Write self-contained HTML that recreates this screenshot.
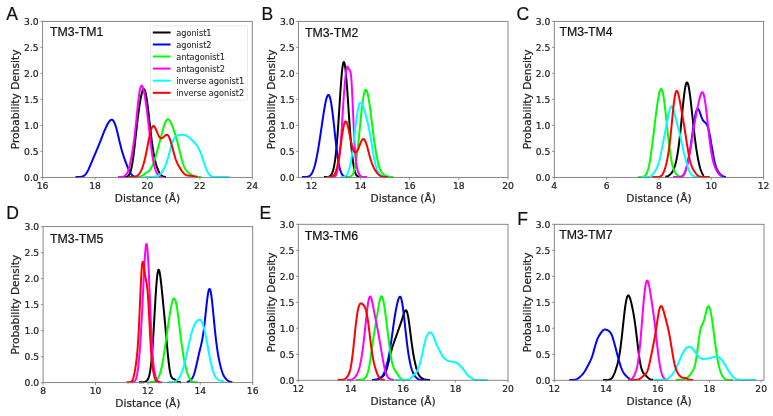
<!DOCTYPE html><html><head><meta charset="utf-8"><style>html,body{margin:0;padding:0;background:#fff;}svg{display:block;will-change:transform}.t{font-family:"DejaVu Sans",sans-serif;fill:#222;stroke:#222;stroke-width:0.22px}.l{font-family:"DejaVu Sans",sans-serif;fill:#262626;stroke:#262626;stroke-width:0.08px}.h{font-family:"Liberation Sans",sans-serif;fill:#111;stroke:#111;stroke-width:0.2px}</style></head><body>
<svg width="773" height="416" viewBox="0 0 773 416">
<polyline points="121.0,177.00 121.5,177.00 122.0,177.00 122.5,177.00 123.0,177.00 123.5,176.99 124.0,176.99 124.5,176.97 125.0,176.95 125.5,176.91 126.0,176.85 126.5,176.74 127.0,176.59 127.5,176.36 128.0,176.03 128.5,175.57 129.0,174.95 129.5,174.12 130.0,173.03 130.5,171.66 131.0,169.94 131.5,167.85 132.0,165.36 132.5,162.45 133.0,159.15 133.5,155.47 134.0,151.47 134.5,147.20 135.0,142.74 135.5,138.18 136.0,133.59 136.5,129.05 137.0,124.62 137.5,120.35 138.0,116.27 138.5,112.42 139.0,108.79 139.5,105.40 140.0,102.24 140.5,99.34 141.0,96.72 141.5,94.39 142.0,92.42 142.5,90.85 143.0,89.73 143.5,89.13 144.0,89.08 144.5,89.63 145.0,90.78 145.5,92.53 146.0,94.86 146.5,97.71 147.0,101.02 147.5,104.73 148.0,108.74 148.5,112.98 149.0,117.36 149.5,121.79 150.0,126.20 150.5,130.54 151.0,134.74 151.5,138.75 152.0,142.55 152.5,146.11 153.0,149.41 153.5,152.45 154.0,155.22 154.5,157.74 155.0,160.02 155.5,162.07 156.0,163.92 156.5,165.60 157.0,167.11 157.5,168.48 158.0,169.73 158.5,170.86 159.0,171.88 159.5,172.80 160.0,173.61 160.5,174.33 161.0,174.94 161.5,175.46 162.0,175.88 162.5,176.21 163.0,176.46 163.5,176.64 164.0,176.77 164.5,176.86 165.0,176.92 165.5,176.96 166.0,176.98" fill="none" stroke="#000000" stroke-width="2.0" stroke-linejoin="round" stroke-linecap="butt"/>
<polyline points="75.4,177.00 75.9,177.00 76.4,177.00 76.9,176.99 77.4,176.99 77.9,176.99 78.4,176.98 78.9,176.96 79.4,176.94 79.9,176.91 80.4,176.87 80.9,176.81 81.4,176.72 81.9,176.61 82.4,176.46 82.9,176.27 83.4,176.03 83.9,175.73 84.4,175.36 84.9,174.92 85.4,174.40 85.9,173.80 86.4,173.12 86.9,172.35 87.4,171.50 87.9,170.58 88.4,169.59 88.9,168.54 89.4,167.44 89.9,166.29 90.4,165.12 90.9,163.92 91.4,162.72 91.9,161.51 92.4,160.30 92.9,159.10 93.4,157.90 93.9,156.72 94.4,155.55 94.9,154.38 95.4,153.22 95.9,152.06 96.4,150.89 96.9,149.72 97.4,148.54 97.9,147.35 98.4,146.14 98.9,144.91 99.4,143.67 99.9,142.41 100.4,141.14 100.9,139.86 101.4,138.57 101.9,137.28 102.4,135.99 102.9,134.71 103.4,133.45 103.9,132.21 104.4,130.99 104.9,129.80 105.4,128.65 105.9,127.54 106.4,126.47 106.9,125.45 107.4,124.48 107.9,123.57 108.4,122.73 108.9,121.96 109.4,121.29 109.9,120.71 110.4,120.25 110.9,119.93 111.4,119.75 111.9,119.74 112.4,119.91 112.9,120.27 113.4,120.84 113.9,121.62 114.4,122.61 114.9,123.82 115.4,125.22 115.9,126.80 116.4,128.55 116.9,130.44 117.4,132.44 117.9,134.53 118.4,136.65 118.9,138.80 119.4,140.93 119.9,143.03 120.4,145.06 120.9,147.02 121.4,148.90 121.9,150.69 122.4,152.39 122.9,154.02 123.4,155.57 123.9,157.06 124.4,158.50 124.9,159.91 125.4,161.29 125.9,162.64 126.4,163.98 126.9,165.29 127.4,166.56 127.9,167.80 128.4,168.99 128.9,170.11 129.4,171.16 129.9,172.11 130.4,172.98 130.9,173.74 131.4,174.41 131.9,174.97 132.4,175.44 132.9,175.82 133.4,176.13 133.9,176.37 134.4,176.55 134.9,176.69 135.4,176.79 135.9,176.86 136.4,176.91 136.9,176.94 137.4,176.96 137.9,176.98 138.4,176.99 138.9,176.99" fill="none" stroke="#0000ff" stroke-width="2.0" stroke-linejoin="round" stroke-linecap="butt"/>
<polyline points="137.0,176.94 137.5,176.92 138.0,176.88 138.5,176.82 139.0,176.75 139.5,176.66 140.0,176.54 140.5,176.39 141.0,176.21 141.5,175.99 142.0,175.75 142.5,175.47 143.0,175.16 143.5,174.83 144.0,174.48 144.5,174.11 145.0,173.74 145.5,173.37 146.0,173.01 146.5,172.64 147.0,172.28 147.5,171.92 148.0,171.55 148.5,171.15 149.0,170.72 149.5,170.24 150.0,169.70 150.5,169.07 151.0,168.34 151.5,167.51 152.0,166.56 152.5,165.49 153.0,164.31 153.5,163.01 154.0,161.61 154.5,160.11 155.0,158.53 155.5,156.88 156.0,155.18 156.5,153.43 157.0,151.65 157.5,149.84 158.0,148.02 158.5,146.18 159.0,144.32 159.5,142.46 160.0,140.58 160.5,138.69 161.0,136.81 161.5,134.92 162.0,133.05 162.5,131.20 163.0,129.41 163.5,127.68 164.0,126.05 164.5,124.54 165.0,123.18 165.5,121.99 166.0,120.99 166.5,120.20 167.0,119.64 167.5,119.31 168.0,119.22 168.5,119.35 169.0,119.69 169.5,120.24 170.0,120.96 170.5,121.83 171.0,122.84 171.5,123.96 172.0,125.16 172.5,126.44 173.0,127.78 173.5,129.17 174.0,130.61 174.5,132.09 175.0,133.63 175.5,135.23 176.0,136.89 176.5,138.62 177.0,140.42 177.5,142.29 178.0,144.23 178.5,146.22 179.0,148.26 179.5,150.33 180.0,152.40 180.5,154.45 181.0,156.46 181.5,158.39 182.0,160.24 182.5,161.97 183.0,163.58 183.5,165.04 184.0,166.36 184.5,167.53 185.0,168.56 185.5,169.46 186.0,170.23 186.5,170.90 187.0,171.48 187.5,171.98 188.0,172.42 188.5,172.82 189.0,173.19 189.5,173.53 190.0,173.86 190.5,174.18 191.0,174.48 191.5,174.78 192.0,175.06 192.5,175.33 193.0,175.58 193.5,175.81 194.0,176.02 194.5,176.21 195.0,176.37 195.5,176.50 196.0,176.62 196.5,176.71 197.0,176.79 197.5,176.85 198.0,176.89 198.5,176.92 199.0,176.95 199.5,176.97 200.0,176.98 200.5,176.99 201.0,176.99" fill="none" stroke="#00ff00" stroke-width="2.0" stroke-linejoin="round" stroke-linecap="butt"/>
<polyline points="118.0,177.00 118.5,177.00 119.0,177.00 119.5,176.99 120.0,176.99 120.5,176.97 121.0,176.95 121.5,176.92 122.0,176.87 122.5,176.79 123.0,176.68 123.5,176.54 124.0,176.34 124.5,176.08 125.0,175.75 125.5,175.33 126.0,174.80 126.5,174.14 127.0,173.33 127.5,172.33 128.0,171.12 128.5,169.70 129.0,168.06 129.5,166.19 130.0,164.12 130.5,161.85 131.0,159.39 131.5,156.77 132.0,153.97 132.5,150.99 133.0,147.81 133.5,144.38 134.0,140.70 134.5,136.72 135.0,132.46 135.5,127.92 136.0,123.15 136.5,118.23 137.0,113.25 137.5,108.34 138.0,103.64 138.5,99.27 139.0,95.37 139.5,92.05 140.0,89.38 140.5,87.41 141.0,86.17 141.5,85.63 142.0,85.76 142.5,86.51 143.0,87.79 143.5,89.55 144.0,91.73 144.5,94.27 145.0,97.12 145.5,100.26 146.0,103.67 146.5,107.32 147.0,111.20 147.5,115.27 148.0,119.51 148.5,123.88 149.0,128.32 149.5,132.78 150.0,137.19 150.5,141.48 151.0,145.60 151.5,149.49 152.0,153.11 152.5,156.42 153.0,159.41 153.5,162.08 154.0,164.44 154.5,166.49 155.0,168.28 155.5,169.83 156.0,171.16 156.5,172.30 157.0,173.28 157.5,174.11 158.0,174.81 158.5,175.38 159.0,175.83 159.5,176.19 160.0,176.46 160.5,176.65 161.0,176.78 161.5,176.87 162.0,176.93 162.5,176.96" fill="none" stroke="#ff00ff" stroke-width="2.0" stroke-linejoin="round" stroke-linecap="butt"/>
<polyline points="144.5,177.00 145.0,177.00 145.5,177.00 146.0,177.00 146.5,177.00 147.0,177.00 147.5,177.00 148.0,177.00 148.5,177.00 149.0,177.00 149.5,177.00 150.0,177.00 150.5,177.00 151.0,176.99 151.5,176.99 152.0,176.98 152.5,176.97 153.0,176.95 153.5,176.93 154.0,176.89 154.5,176.84 155.0,176.78 155.5,176.69 156.0,176.58 156.5,176.44 157.0,176.26 157.5,176.04 158.0,175.79 158.5,175.48 159.0,175.13 159.5,174.72 160.0,174.27 160.5,173.76 161.0,173.20 161.5,172.59 162.0,171.92 162.5,171.19 163.0,170.39 163.5,169.53 164.0,168.59 164.5,167.57 165.0,166.47 165.5,165.26 166.0,163.96 166.5,162.56 167.0,161.06 167.5,159.46 168.0,157.78 168.5,156.04 169.0,154.24 169.5,152.41 170.0,150.58 170.5,148.77 171.0,147.01 171.5,145.33 172.0,143.76 172.5,142.30 173.0,140.99 173.5,139.82 174.0,138.81 174.5,137.95 175.0,137.24 175.5,136.67 176.0,136.22 176.5,135.87 177.0,135.61 177.5,135.42 178.0,135.29 178.5,135.18 179.0,135.10 179.5,135.03 180.0,134.97 180.5,134.92 181.0,134.87 181.5,134.83 182.0,134.79 182.5,134.78 183.0,134.79 183.5,134.82 184.0,134.89 184.5,134.99 185.0,135.13 185.5,135.30 186.0,135.51 186.5,135.76 187.0,136.04 187.5,136.35 188.0,136.69 188.5,137.05 189.0,137.44 189.5,137.85 190.0,138.28 190.5,138.72 191.0,139.18 191.5,139.66 192.0,140.14 192.5,140.63 193.0,141.14 193.5,141.65 194.0,142.17 194.5,142.70 195.0,143.25 195.5,143.82 196.0,144.41 196.5,145.05 197.0,145.72 197.5,146.45 198.0,147.24 198.5,148.11 199.0,149.06 199.5,150.09 200.0,151.22 200.5,152.43 201.0,153.72 201.5,155.09 202.0,156.53 202.5,158.02 203.0,159.54 203.5,161.08 204.0,162.62 204.5,164.13 205.0,165.60 205.5,167.01 206.0,168.34 206.5,169.58 207.0,170.72 207.5,171.75 208.0,172.67 208.5,173.48 209.0,174.18 209.5,174.77 210.0,175.26 210.5,175.67 211.0,176.00 211.5,176.26 212.0,176.46 212.5,176.61 213.0,176.73 213.5,176.81 214.0,176.87 214.5,176.92 215.0,176.95 215.5,176.97 216.0,176.98 216.5,176.99 217.0,176.99 217.5,177.00 218.0,177.00 218.5,177.00 219.0,177.00 219.5,177.00 220.0,177.00 220.5,177.00 221.0,177.00 221.5,177.00 222.0,177.00 222.5,177.00 223.0,177.00 223.5,177.00 224.0,177.00 224.5,177.00 225.0,177.00 225.5,177.00 226.0,177.00 226.5,177.00 227.0,177.00 227.5,177.00 228.0,177.00 228.5,177.00 229.0,177.00" fill="none" stroke="#00ffff" stroke-width="2.0" stroke-linejoin="round" stroke-linecap="butt"/>
<polyline points="129.0,177.00 129.5,177.00 130.0,177.00 130.5,176.99 131.0,176.99 131.5,176.98 132.0,176.97 132.5,176.95 133.0,176.93 133.5,176.89 134.0,176.84 134.5,176.77 135.0,176.67 135.5,176.54 136.0,176.37 136.5,176.16 137.0,175.88 137.5,175.55 138.0,175.15 138.5,174.66 139.0,174.10 139.5,173.44 140.0,172.68 140.5,171.82 141.0,170.86 141.5,169.77 142.0,168.57 142.5,167.24 143.0,165.77 143.5,164.17 144.0,162.42 144.5,160.52 145.0,158.47 145.5,156.28 146.0,153.95 146.5,151.51 147.0,148.97 147.5,146.37 148.0,143.74 148.5,141.13 149.0,138.58 149.5,136.15 150.0,133.88 150.5,131.83 151.0,130.05 151.5,128.56 152.0,127.41 152.5,126.60 153.0,126.14 153.5,126.03 154.0,126.25 154.5,126.76 155.0,127.52 155.5,128.48 156.0,129.59 156.5,130.79 157.0,132.02 157.5,133.24 158.0,134.39 158.5,135.44 159.0,136.35 159.5,137.10 160.0,137.68 160.5,138.07 161.0,138.28 161.5,138.32 162.0,138.20 162.5,137.95 163.0,137.58 163.5,137.14 164.0,136.65 164.5,136.15 165.0,135.68 165.5,135.27 166.0,134.97 166.5,134.81 167.0,134.82 167.5,135.02 168.0,135.44 168.5,136.08 169.0,136.96 169.5,138.06 170.0,139.37 170.5,140.87 171.0,142.53 171.5,144.31 172.0,146.17 172.5,148.08 173.0,149.99 173.5,151.87 174.0,153.70 174.5,155.44 175.0,157.07 175.5,158.59 176.0,160.00 176.5,161.29 177.0,162.48 177.5,163.57 178.0,164.58 178.5,165.52 179.0,166.41 179.5,167.25 180.0,168.07 180.5,168.86 181.0,169.62 181.5,170.36 182.0,171.08 182.5,171.75 183.0,172.39 183.5,172.98 184.0,173.51 184.5,173.98 185.0,174.38 185.5,174.72 186.0,175.00 186.5,175.21 187.0,175.37 187.5,175.49 188.0,175.57 188.5,175.62 189.0,175.66 189.5,175.69 190.0,175.72 190.5,175.76 191.0,175.81 191.5,175.88 192.0,175.95 192.5,176.04 193.0,176.14 193.5,176.24 194.0,176.34 194.5,176.44 195.0,176.53 195.5,176.62 196.0,176.70 196.5,176.76 197.0,176.82 197.5,176.87" fill="none" stroke="#ff0000" stroke-width="2.0" stroke-linejoin="round" stroke-linecap="butt"/>
<rect x="42.6" y="21.4" width="209.70" height="156.00" fill="none" stroke="#7a7a7a" stroke-width="0.9"/>
<line x1="40.40" y1="177.40" x2="42.60" y2="177.40" stroke="#7a7a7a" stroke-width="0.8"/>
<text class="t" x="38.70" y="180.60" font-size="9.2" text-anchor="end">0.0</text>
<line x1="40.40" y1="151.40" x2="42.60" y2="151.40" stroke="#7a7a7a" stroke-width="0.8"/>
<text class="t" x="38.70" y="154.60" font-size="9.2" text-anchor="end">0.5</text>
<line x1="40.40" y1="125.40" x2="42.60" y2="125.40" stroke="#7a7a7a" stroke-width="0.8"/>
<text class="t" x="38.70" y="128.60" font-size="9.2" text-anchor="end">1.0</text>
<line x1="40.40" y1="99.40" x2="42.60" y2="99.40" stroke="#7a7a7a" stroke-width="0.8"/>
<text class="t" x="38.70" y="102.60" font-size="9.2" text-anchor="end">1.5</text>
<line x1="40.40" y1="73.40" x2="42.60" y2="73.40" stroke="#7a7a7a" stroke-width="0.8"/>
<text class="t" x="38.70" y="76.60" font-size="9.2" text-anchor="end">2.0</text>
<line x1="40.40" y1="47.40" x2="42.60" y2="47.40" stroke="#7a7a7a" stroke-width="0.8"/>
<text class="t" x="38.70" y="50.60" font-size="9.2" text-anchor="end">2.5</text>
<line x1="40.40" y1="21.40" x2="42.60" y2="21.40" stroke="#7a7a7a" stroke-width="0.8"/>
<text class="t" x="38.70" y="24.60" font-size="9.2" text-anchor="end">3.0</text>
<line x1="42.60" y1="177.40" x2="42.60" y2="179.60" stroke="#7a7a7a" stroke-width="0.8"/>
<text class="t" x="42.60" y="189.00" font-size="9.2" text-anchor="middle">16</text>
<line x1="95.03" y1="177.40" x2="95.03" y2="179.60" stroke="#7a7a7a" stroke-width="0.8"/>
<text class="t" x="95.03" y="189.00" font-size="9.2" text-anchor="middle">18</text>
<line x1="147.45" y1="177.40" x2="147.45" y2="179.60" stroke="#7a7a7a" stroke-width="0.8"/>
<text class="t" x="147.45" y="189.00" font-size="9.2" text-anchor="middle">20</text>
<line x1="199.88" y1="177.40" x2="199.88" y2="179.60" stroke="#7a7a7a" stroke-width="0.8"/>
<text class="t" x="199.88" y="189.00" font-size="9.2" text-anchor="middle">22</text>
<line x1="252.30" y1="177.40" x2="252.30" y2="179.60" stroke="#7a7a7a" stroke-width="0.8"/>
<text class="t" x="252.30" y="189.00" font-size="9.2" text-anchor="middle">24</text>
<text class="t" x="147.45" y="202.20" font-size="10.6" text-anchor="middle">Distance (Å)</text>
<text class="t" transform="translate(18.80,99.40) rotate(-90)" x="0" y="0" font-size="10.6" text-anchor="middle">Probability Density</text>
<text class="h" x="50.1" y="35.6" font-size="12.3">TM3-TM1</text>
<text class="h" x="6.3" y="19.6" font-size="17.5">A</text>
<polyline points="324.0,177.00 324.5,177.00 325.0,177.00 325.5,176.99 326.0,176.98 326.5,176.97 327.0,176.95 327.5,176.91 328.0,176.84 328.5,176.75 329.0,176.60 329.5,176.39 330.0,176.08 330.5,175.67 331.0,175.11 331.5,174.37 332.0,173.42 332.5,172.22 333.0,170.71 333.5,168.85 334.0,166.59 334.5,163.87 335.0,160.63 335.5,156.83 336.0,152.42 336.5,147.38 337.0,141.71 337.5,135.43 338.0,128.59 338.5,121.28 339.0,113.63 339.5,105.79 340.0,97.97 340.5,90.39 341.0,83.28 341.5,76.87 342.0,71.39 342.5,67.03 343.0,63.96 343.5,62.27 344.0,62.03 344.5,63.22 345.0,65.79 345.5,69.60 346.0,74.52 346.5,80.34 347.0,86.89 347.5,93.93 348.0,101.29 348.5,108.77 349.0,116.20 349.5,123.44 350.0,130.37 350.5,136.90 351.0,142.96 351.5,148.49 352.0,153.47 352.5,157.87 353.0,161.71 353.5,165.00 354.0,167.76 354.5,170.03 355.0,171.86 355.5,173.30 356.0,174.40 356.5,175.22 357.0,175.82 357.5,176.24 358.0,176.52 358.5,176.71 359.0,176.83 359.5,176.91" fill="none" stroke="#000000" stroke-width="2.0" stroke-linejoin="round" stroke-linecap="butt"/>
<polyline points="302.0,177.00 302.5,177.00 303.0,177.00 303.5,176.99 304.0,176.99 304.5,176.98 305.0,176.97 305.5,176.95 306.0,176.92 306.5,176.88 307.0,176.82 307.5,176.73 308.0,176.61 308.5,176.45 309.0,176.24 309.5,175.96 310.0,175.60 310.5,175.15 311.0,174.59 311.5,173.91 312.0,173.09 312.5,172.12 313.0,170.99 313.5,169.69 314.0,168.21 314.5,166.55 315.0,164.71 315.5,162.68 316.0,160.48 316.5,158.11 317.0,155.58 317.5,152.89 318.0,150.06 318.5,147.11 319.0,144.04 319.5,140.87 320.0,137.62 320.5,134.30 321.0,130.94 321.5,127.54 322.0,124.13 322.5,120.74 323.0,117.40 323.5,114.13 324.0,110.98 324.5,107.97 325.0,105.16 325.5,102.59 326.0,100.31 326.5,98.37 327.0,96.82 327.5,95.69 328.0,95.04 328.5,94.89 329.0,95.27 329.5,96.19 330.0,97.66 330.5,99.67 331.0,102.19 331.5,105.19 332.0,108.63 332.5,112.45 333.0,116.59 333.5,120.96 334.0,125.51 334.5,130.13 335.0,134.77 335.5,139.35 336.0,143.78 336.5,148.02 337.0,152.02 337.5,155.72 338.0,159.09 338.5,162.13 339.0,164.82 339.5,167.16 340.0,169.17 340.5,170.86 341.0,172.26 341.5,173.40 342.0,174.31 342.5,175.02 343.0,175.57 343.5,175.99 344.0,176.30 344.5,176.52 345.0,176.68 345.5,176.79 346.0,176.86 346.5,176.91 347.0,176.95 347.5,176.97 348.0,176.98" fill="none" stroke="#0000ff" stroke-width="2.0" stroke-linejoin="round" stroke-linecap="butt"/>
<polyline points="347.0,176.98 347.5,176.97 348.0,176.94 348.5,176.90 349.0,176.84 349.5,176.76 350.0,176.62 350.5,176.43 351.0,176.16 351.5,175.78 352.0,175.26 352.5,174.58 353.0,173.68 353.5,172.54 354.0,171.10 354.5,169.34 355.0,167.22 355.5,164.71 356.0,161.80 356.5,158.48 357.0,154.77 357.5,150.68 358.0,146.25 358.5,141.54 359.0,136.62 359.5,131.55 360.0,126.43 360.5,121.34 361.0,116.38 361.5,111.63 362.0,107.18 362.5,103.11 363.0,99.49 363.5,96.39 364.0,93.85 364.5,91.90 365.0,90.58 365.5,89.88 366.0,89.80 366.5,90.34 367.0,91.45 367.5,93.10 368.0,95.25 368.5,97.84 369.0,100.82 369.5,104.13 370.0,107.70 370.5,111.48 371.0,115.41 371.5,119.42 372.0,123.47 372.5,127.51 373.0,131.49 373.5,135.38 374.0,139.14 374.5,142.75 375.0,146.18 375.5,149.42 376.0,152.44 376.5,155.25 377.0,157.83 377.5,160.19 378.0,162.33 378.5,164.24 379.0,165.95 379.5,167.47 380.0,168.79 380.5,169.95 381.0,170.96 381.5,171.83 382.0,172.57 382.5,173.21 383.0,173.76 383.5,174.23 384.0,174.64 384.5,174.99 385.0,175.30 385.5,175.56 386.0,175.80 386.5,176.00 387.0,176.17 387.5,176.33 388.0,176.46 388.5,176.57 389.0,176.66 389.5,176.74 390.0,176.80 390.5,176.85 391.0,176.89 391.5,176.92 392.0,176.94 392.5,176.96 393.0,176.97" fill="none" stroke="#00ff00" stroke-width="2.0" stroke-linejoin="round" stroke-linecap="butt"/>
<polyline points="330.0,177.00 330.5,177.00 331.0,177.00 331.5,177.00 332.0,177.00 332.5,176.99 333.0,176.97 333.5,176.92 334.0,176.84 334.5,176.67 335.0,176.37 335.5,175.88 336.0,175.09 336.5,173.90 337.0,172.21 337.5,169.95 338.0,167.12 338.5,163.80 339.0,160.09 339.5,156.01 340.0,151.47 340.5,146.24 341.0,140.06 341.5,132.83 342.0,124.70 342.5,116.15 343.0,107.78 343.5,100.08 344.0,93.25 344.5,87.19 345.0,81.68 345.5,76.62 346.0,72.22 346.5,68.89 347.0,67.00 347.5,66.61 348.0,67.31 348.5,68.45 349.0,69.40 349.5,69.99 350.0,70.59 350.5,72.05 351.0,75.33 351.5,81.08 352.0,89.41 352.5,99.79 353.0,111.29 353.5,122.83 354.0,133.52 354.5,142.79 355.0,150.43 355.5,156.52 356.0,161.27 356.5,164.93 357.0,167.73 357.5,169.88 358.0,171.52 358.5,172.80 359.0,173.83 359.5,174.67 360.0,175.35 360.5,175.90 361.0,176.31 361.5,176.60 362.0,176.78 362.5,176.89 363.0,176.95 363.5,176.98 364.0,176.99 364.5,177.00 365.0,177.00 365.5,177.00 366.0,177.00 366.5,177.00 367.0,177.00" fill="none" stroke="#ff00ff" stroke-width="2.0" stroke-linejoin="round" stroke-linecap="butt"/>
<polyline points="341.0,176.98 341.5,176.97 342.0,176.95 342.5,176.91 343.0,176.86 343.5,176.79 344.0,176.68 344.5,176.53 345.0,176.32 345.5,176.03 346.0,175.65 346.5,175.14 347.0,174.49 347.5,173.66 348.0,172.63 348.5,171.37 349.0,169.85 349.5,168.06 350.0,165.97 350.5,163.57 351.0,160.86 351.5,157.84 352.0,154.53 352.5,150.95 353.0,147.14 353.5,143.15 354.0,139.02 354.5,134.82 355.0,130.62 355.5,126.50 356.0,122.51 356.5,118.75 357.0,115.28 357.5,112.15 358.0,109.42 358.5,107.13 359.0,105.31 359.5,103.96 360.0,103.08 360.5,102.66 361.0,102.67 361.5,103.05 362.0,103.78 362.5,104.79 363.0,106.03 363.5,107.46 364.0,109.02 364.5,110.69 365.0,112.44 365.5,114.25 366.0,116.12 366.5,118.04 367.0,120.04 367.5,122.12 368.0,124.30 368.5,126.61 369.0,129.03 369.5,131.60 370.0,134.29 370.5,137.10 371.0,140.01 371.5,142.98 372.0,145.99 372.5,149.00 373.0,151.95 373.5,154.81 374.0,157.54 374.5,160.09 375.0,162.45 375.5,164.59 376.0,166.51 376.5,168.19 377.0,169.64 377.5,170.88 378.0,171.92 378.5,172.78 379.0,173.49 379.5,174.07 380.0,174.55 380.5,174.94 381.0,175.26 381.5,175.53 382.0,175.76 382.5,175.95 383.0,176.13 383.5,176.28 384.0,176.41 384.5,176.52 385.0,176.62 385.5,176.71 386.0,176.77" fill="none" stroke="#00ffff" stroke-width="2.0" stroke-linejoin="round" stroke-linecap="butt"/>
<polyline points="326.5,177.00 327.0,177.00 327.5,176.99 328.0,176.99 328.5,176.98 329.0,176.97 329.5,176.95 330.0,176.92 330.5,176.87 331.0,176.79 331.5,176.68 332.0,176.53 332.5,176.31 333.0,176.00 333.5,175.60 334.0,175.06 334.5,174.36 335.0,173.48 335.5,172.37 336.0,171.02 336.5,169.40 337.0,167.49 337.5,165.29 338.0,162.77 338.5,159.97 339.0,156.90 339.5,153.60 340.0,150.11 340.5,146.51 341.0,142.86 341.5,139.24 342.0,135.75 342.5,132.48 343.0,129.50 343.5,126.91 344.0,124.76 344.5,123.13 345.0,122.04 345.5,121.51 346.0,121.56 346.5,122.15 347.0,123.24 347.5,124.79 348.0,126.72 348.5,128.95 349.0,131.40 349.5,133.97 350.0,136.59 350.5,139.18 351.0,141.66 351.5,143.96 352.0,146.05 352.5,147.88 353.0,149.43 353.5,150.67 354.0,151.61 354.5,152.24 355.0,152.57 355.5,152.62 356.0,152.39 356.5,151.92 357.0,151.23 357.5,150.35 358.0,149.31 358.5,148.14 359.0,146.89 359.5,145.59 360.0,144.30 360.5,143.05 361.0,141.90 361.5,140.88 362.0,140.06 362.5,139.45 363.0,139.09 363.5,139.01 364.0,139.21 364.5,139.71 365.0,140.49 365.5,141.55 366.0,142.84 366.5,144.34 367.0,146.02 367.5,147.82 368.0,149.70 368.5,151.63 369.0,153.56 369.5,155.45 370.0,157.27 370.5,159.01 371.0,160.64 371.5,162.16 372.0,163.56 372.5,164.85 373.0,166.03 373.5,167.12 374.0,168.11 374.5,169.03 375.0,169.88 375.5,170.68 376.0,171.42 376.5,172.11 377.0,172.75 377.5,173.35 378.0,173.90 378.5,174.39 379.0,174.84 379.5,175.24 380.0,175.59 380.5,175.88 381.0,176.13 381.5,176.34 382.0,176.51 382.5,176.64 383.0,176.74 383.5,176.82 384.0,176.87 384.5,176.91 385.0,176.94 385.5,176.96 386.0,176.98 386.5,176.99 387.0,176.99 387.5,176.99 388.0,177.00" fill="none" stroke="#ff0000" stroke-width="2.0" stroke-linejoin="round" stroke-linecap="butt"/>
<rect x="298.4" y="21.4" width="209.60" height="156.00" fill="none" stroke="#7a7a7a" stroke-width="0.9"/>
<line x1="296.20" y1="177.40" x2="298.40" y2="177.40" stroke="#7a7a7a" stroke-width="0.8"/>
<text class="t" x="294.50" y="180.60" font-size="9.2" text-anchor="end">0.0</text>
<line x1="296.20" y1="151.40" x2="298.40" y2="151.40" stroke="#7a7a7a" stroke-width="0.8"/>
<text class="t" x="294.50" y="154.60" font-size="9.2" text-anchor="end">0.5</text>
<line x1="296.20" y1="125.40" x2="298.40" y2="125.40" stroke="#7a7a7a" stroke-width="0.8"/>
<text class="t" x="294.50" y="128.60" font-size="9.2" text-anchor="end">1.0</text>
<line x1="296.20" y1="99.40" x2="298.40" y2="99.40" stroke="#7a7a7a" stroke-width="0.8"/>
<text class="t" x="294.50" y="102.60" font-size="9.2" text-anchor="end">1.5</text>
<line x1="296.20" y1="73.40" x2="298.40" y2="73.40" stroke="#7a7a7a" stroke-width="0.8"/>
<text class="t" x="294.50" y="76.60" font-size="9.2" text-anchor="end">2.0</text>
<line x1="296.20" y1="47.40" x2="298.40" y2="47.40" stroke="#7a7a7a" stroke-width="0.8"/>
<text class="t" x="294.50" y="50.60" font-size="9.2" text-anchor="end">2.5</text>
<line x1="296.20" y1="21.40" x2="298.40" y2="21.40" stroke="#7a7a7a" stroke-width="0.8"/>
<text class="t" x="294.50" y="24.60" font-size="9.2" text-anchor="end">3.0</text>
<line x1="311.49" y1="177.40" x2="311.49" y2="179.60" stroke="#7a7a7a" stroke-width="0.8"/>
<text class="t" x="311.49" y="189.00" font-size="9.2" text-anchor="middle">12</text>
<line x1="360.62" y1="177.40" x2="360.62" y2="179.60" stroke="#7a7a7a" stroke-width="0.8"/>
<text class="t" x="360.62" y="189.00" font-size="9.2" text-anchor="middle">14</text>
<line x1="409.75" y1="177.40" x2="409.75" y2="179.60" stroke="#7a7a7a" stroke-width="0.8"/>
<text class="t" x="409.75" y="189.00" font-size="9.2" text-anchor="middle">16</text>
<line x1="458.87" y1="177.40" x2="458.87" y2="179.60" stroke="#7a7a7a" stroke-width="0.8"/>
<text class="t" x="458.87" y="189.00" font-size="9.2" text-anchor="middle">18</text>
<line x1="508.00" y1="177.40" x2="508.00" y2="179.60" stroke="#7a7a7a" stroke-width="0.8"/>
<text class="t" x="508.00" y="189.00" font-size="9.2" text-anchor="middle">20</text>
<text class="t" x="403.20" y="202.20" font-size="10.6" text-anchor="middle">Distance (Å)</text>
<text class="t" transform="translate(274.60,99.40) rotate(-90)" x="0" y="0" font-size="10.6" text-anchor="middle">Probability Density</text>
<text class="h" x="305.0" y="36.6" font-size="12.3">TM3-TM2</text>
<text class="h" x="261.5" y="19.6" font-size="17.5">B</text>
<polyline points="665.3,176.83 665.8,176.74 666.3,176.63 666.8,176.48 667.3,176.30 667.8,176.08 668.3,175.81 668.8,175.51 669.3,175.17 669.8,174.78 670.3,174.35 670.8,173.85 671.3,173.29 671.8,172.65 672.3,171.92 672.8,171.07 673.3,170.10 673.8,168.97 674.3,167.69 674.8,166.22 675.3,164.54 675.8,162.64 676.3,160.49 676.8,158.07 677.3,155.37 677.8,152.36 678.3,149.02 678.8,145.35 679.3,141.35 679.8,137.04 680.3,132.43 680.8,127.58 681.3,122.54 681.8,117.40 682.3,112.23 682.8,107.14 683.3,102.26 683.8,97.68 684.3,93.53 684.8,89.92 685.3,86.93 685.8,84.66 686.3,83.15 686.8,82.43 687.3,82.52 687.8,83.40 688.3,85.02 688.8,87.32 689.3,90.22 689.8,93.64 690.3,97.48 690.8,101.65 691.3,106.06 691.8,110.62 692.3,115.26 692.8,119.91 693.3,124.51 693.8,129.00 694.3,133.34 694.8,137.50 695.3,141.45 695.8,145.18 696.3,148.66 696.8,151.90 697.3,154.91 697.8,157.68 698.3,160.23 698.8,162.58 699.3,164.72 699.8,166.68 700.3,168.45 700.8,170.03 701.3,171.42 701.8,172.63 702.3,173.66 702.8,174.51 703.3,175.19 703.8,175.73" fill="none" stroke="#000000" stroke-width="2.0" stroke-linejoin="round" stroke-linecap="butt"/>
<polyline points="673.0,177.00 673.5,177.00 674.0,177.00 674.5,177.00 675.0,177.00 675.5,177.00 676.0,177.00 676.5,177.00 677.0,177.00 677.5,177.00 678.0,176.99 678.5,176.99 679.0,176.97 679.5,176.95 680.0,176.91 680.5,176.84 681.0,176.73 681.5,176.57 682.0,176.33 682.5,176.00 683.0,175.55 683.5,174.95 684.0,174.19 684.5,173.24 685.0,172.10 685.5,170.76 686.0,169.20 686.5,167.45 687.0,165.49 687.5,163.34 688.0,161.01 688.5,158.51 689.0,155.85 689.5,153.02 690.0,150.04 690.5,146.92 691.0,143.66 691.5,140.29 692.0,136.83 692.5,133.30 693.0,129.76 693.5,126.26 694.0,122.88 694.5,119.69 695.0,116.77 695.5,114.22 696.0,112.09 696.5,110.45 697.0,109.35 697.5,108.79 698.0,108.77 698.5,109.23 699.0,110.10 699.5,111.30 700.0,112.71 700.5,114.22 701.0,115.74 701.5,117.16 702.0,118.44 702.5,119.51 703.0,120.38 703.5,121.05 704.0,121.57 704.5,121.99 705.0,122.37 705.5,122.79 706.0,123.31 706.5,124.00 707.0,124.91 707.5,126.07 708.0,127.53 708.5,129.27 709.0,131.31 709.5,133.62 710.0,136.17 710.5,138.92 711.0,141.82 711.5,144.81 712.0,147.82 712.5,150.80 713.0,153.68 713.5,156.41 714.0,158.94 714.5,161.25 715.0,163.32 715.5,165.14 716.0,166.72 716.5,168.09 717.0,169.26 717.5,170.27 718.0,171.15 718.5,171.92 719.0,172.62 719.5,173.25 720.0,173.83 720.5,174.36 721.0,174.84 721.5,175.27 722.0,175.65 722.5,175.97 723.0,176.24 723.5,176.45 724.0,176.62 724.5,176.74 725.0,176.83 725.5,176.89 726.0,176.94" fill="none" stroke="#0000ff" stroke-width="2.0" stroke-linejoin="round" stroke-linecap="butt"/>
<polyline points="638.2,177.00 638.7,177.00 639.2,177.00 639.7,177.00 640.2,176.99 640.7,176.98 641.2,176.97 641.7,176.94 642.2,176.89 642.7,176.82 643.2,176.72 643.7,176.56 644.2,176.33 644.7,176.01 645.2,175.58 645.7,175.01 646.2,174.26 646.7,173.33 647.2,172.16 647.7,170.74 648.2,169.03 648.7,167.03 649.2,164.71 649.7,162.08 650.2,159.13 650.7,155.90 651.2,152.41 651.7,148.69 652.2,144.80 652.7,140.78 653.2,136.67 653.7,132.52 654.2,128.37 654.7,124.26 655.2,120.19 655.7,116.21 656.2,112.33 656.7,108.58 657.2,105.00 657.7,101.62 658.2,98.50 658.7,95.70 659.2,93.29 659.7,91.33 660.2,89.90 660.7,89.07 661.2,88.86 661.7,89.32 662.2,90.45 662.7,92.24 663.2,94.65 663.7,97.62 664.2,101.09 664.7,104.97 665.2,109.18 665.7,113.63 666.2,118.24 666.7,122.92 667.2,127.61 667.7,132.24 668.2,136.75 668.7,141.10 669.2,145.23 669.7,149.11 670.2,152.72 670.7,156.03 671.2,159.02 671.7,161.69 672.2,164.04 672.7,166.08 673.2,167.84 673.7,169.33 674.2,170.60 674.7,171.66 675.2,172.55 675.7,173.31 676.2,173.94 676.7,174.49 677.2,174.95 677.7,175.35 678.2,175.70 678.7,175.98 679.2,176.23" fill="none" stroke="#00ff00" stroke-width="2.0" stroke-linejoin="round" stroke-linecap="butt"/>
<polyline points="673.0,177.00 673.5,177.00 674.0,177.00 674.5,177.00 675.0,177.00 675.5,177.00 676.0,177.00 676.5,177.00 677.0,177.00 677.5,177.00 678.0,176.99 678.5,176.98 679.0,176.97 679.5,176.94 680.0,176.89 680.5,176.81 681.0,176.69 681.5,176.52 682.0,176.27 682.5,175.92 683.0,175.45 683.5,174.85 684.0,174.09 684.5,173.17 685.0,172.06 685.5,170.77 686.0,169.30 686.5,167.64 687.0,165.79 687.5,163.77 688.0,161.57 688.5,159.20 689.0,156.67 689.5,153.98 690.0,151.15 690.5,148.20 691.0,145.15 691.5,142.02 692.0,138.86 692.5,135.68 693.0,132.52 693.5,129.42 694.0,126.39 694.5,123.46 695.0,120.62 695.5,117.89 696.0,115.25 696.5,112.69 697.0,110.20 697.5,107.77 698.0,105.39 698.5,103.09 699.0,100.88 699.5,98.79 700.0,96.87 700.5,95.20 701.0,93.83 701.5,92.83 702.0,92.29 702.5,92.26 703.0,92.79 703.5,93.92 704.0,95.65 704.5,97.97 705.0,100.86 705.5,104.26 706.0,108.09 706.5,112.27 707.0,116.71 707.5,121.30 708.0,125.95 708.5,130.55 709.0,135.02 709.5,139.29 710.0,143.29 710.5,147.00 711.0,150.39 711.5,153.44 712.0,156.17 712.5,158.60 713.0,160.75 713.5,162.65 714.0,164.33 714.5,165.83 715.0,167.17 715.5,168.38 716.0,169.47 716.5,170.45 717.0,171.35 717.5,172.17 718.0,172.91 718.5,173.58 719.0,174.18 719.5,174.71 720.0,175.17 720.5,175.57 721.0,175.91 721.5,176.19 722.0,176.41" fill="none" stroke="#ff00ff" stroke-width="2.0" stroke-linejoin="round" stroke-linecap="butt"/>
<polyline points="641.0,177.00 641.5,177.00 642.0,177.00 642.5,177.00 643.0,177.00 643.5,177.00 644.0,177.00 644.5,177.00 645.0,177.00 645.5,177.00 646.0,176.99 646.5,176.99 647.0,176.98 647.5,176.96 648.0,176.93 648.5,176.87 649.0,176.79 649.5,176.67 650.0,176.50 650.5,176.26 651.0,175.96 651.5,175.57 652.0,175.11 652.5,174.57 653.0,173.96 653.5,173.29 654.0,172.57 654.5,171.83 655.0,171.05 655.5,170.25 656.0,169.40 656.5,168.50 657.0,167.51 657.5,166.41 658.0,165.15 658.5,163.73 659.0,162.10 659.5,160.28 660.0,158.25 660.5,156.02 661.0,153.64 661.5,151.13 662.0,148.52 662.5,145.87 663.0,143.19 663.5,140.52 664.0,137.86 664.5,135.23 665.0,132.62 665.5,130.01 666.0,127.40 666.5,124.78 667.0,122.14 667.5,119.52 668.0,116.95 668.5,114.49 669.0,112.22 669.5,110.21 670.0,108.55 670.5,107.31 671.0,106.55 671.5,106.29 672.0,106.54 672.5,107.26 673.0,108.39 673.5,109.86 674.0,111.57 674.5,113.44 675.0,115.40 675.5,117.38 676.0,119.35 676.5,121.29 677.0,123.20 677.5,125.10 678.0,127.01 678.5,128.95 679.0,130.96 679.5,133.03 680.0,135.16 680.5,137.36 681.0,139.59 681.5,141.85 682.0,144.11 682.5,146.35 683.0,148.56 683.5,150.74 684.0,152.87 684.5,154.96 685.0,157.00 685.5,158.99 686.0,160.92 686.5,162.77 687.0,164.54 687.5,166.21 688.0,167.75 688.5,169.15 689.0,170.41 689.5,171.51 690.0,172.46 690.5,173.28 691.0,173.96 691.5,174.53 692.0,175.01 692.5,175.40 693.0,175.73 693.5,176.00 694.0,176.23 694.5,176.42 695.0,176.57 695.5,176.69 696.0,176.78 696.5,176.85 697.0,176.90 697.5,176.94 698.0,176.96" fill="none" stroke="#00ffff" stroke-width="2.0" stroke-linejoin="round" stroke-linecap="butt"/>
<polyline points="652.2,177.00 652.7,177.00 653.2,177.00 653.7,177.00 654.2,177.00 654.7,177.00 655.2,177.00 655.7,177.00 656.2,177.00 656.7,176.99 657.2,176.98 657.7,176.97 658.2,176.94 658.7,176.89 659.2,176.81 659.7,176.69 660.2,176.51 660.7,176.25 661.2,175.89 661.7,175.41 662.2,174.79 662.7,174.03 663.2,173.11 663.7,172.03 664.2,170.79 664.7,169.39 665.2,167.83 665.7,166.10 666.2,164.20 666.7,162.09 667.2,159.76 667.7,157.16 668.2,154.26 668.7,151.02 669.2,147.41 669.7,143.43 670.2,139.09 670.7,134.42 671.2,129.49 671.7,124.37 672.2,119.19 672.7,114.07 673.2,109.16 673.7,104.60 674.2,100.54 674.7,97.08 675.2,94.33 675.7,92.34 676.2,91.15 676.7,90.74 677.2,91.06 677.7,92.03 678.2,93.56 678.7,95.54 679.2,97.86 679.7,100.41 680.2,103.10 680.7,105.87 681.2,108.68 681.7,111.50 682.2,114.34 682.7,117.20 683.2,120.11 683.7,123.08 684.2,126.13 684.7,129.27 685.2,132.48 685.7,135.76 686.2,139.06 686.7,142.34 687.2,145.57 687.7,148.70 688.2,151.67 688.7,154.45 689.2,157.00 689.7,159.32 690.2,161.39 690.7,163.21 691.2,164.81 691.7,166.20 692.2,167.41 692.7,168.47 693.2,169.41 693.7,170.27 694.2,171.07 694.7,171.81 695.2,172.51 695.7,173.18 696.2,173.80 696.7,174.38 697.2,174.90 697.7,175.37 698.2,175.76 698.7,176.09 699.2,176.35 699.7,176.55 700.2,176.70 700.7,176.81 701.2,176.88 701.7,176.93 702.2,176.96 702.7,176.98 703.2,176.99 703.7,176.99 704.2,177.00 704.7,177.00 705.2,177.00 705.7,177.00 706.2,177.00 706.7,177.00 707.2,177.00 707.7,177.00 708.2,177.00 708.7,177.00 709.2,177.00 709.7,177.00" fill="none" stroke="#ff0000" stroke-width="2.0" stroke-linejoin="round" stroke-linecap="butt"/>
<rect x="554.3" y="21.4" width="209.30" height="156.00" fill="none" stroke="#7a7a7a" stroke-width="0.9"/>
<line x1="552.10" y1="177.40" x2="554.30" y2="177.40" stroke="#7a7a7a" stroke-width="0.8"/>
<text class="t" x="550.40" y="180.60" font-size="9.2" text-anchor="end">0.0</text>
<line x1="552.10" y1="151.40" x2="554.30" y2="151.40" stroke="#7a7a7a" stroke-width="0.8"/>
<text class="t" x="550.40" y="154.60" font-size="9.2" text-anchor="end">0.5</text>
<line x1="552.10" y1="125.40" x2="554.30" y2="125.40" stroke="#7a7a7a" stroke-width="0.8"/>
<text class="t" x="550.40" y="128.60" font-size="9.2" text-anchor="end">1.0</text>
<line x1="552.10" y1="99.40" x2="554.30" y2="99.40" stroke="#7a7a7a" stroke-width="0.8"/>
<text class="t" x="550.40" y="102.60" font-size="9.2" text-anchor="end">1.5</text>
<line x1="552.10" y1="73.40" x2="554.30" y2="73.40" stroke="#7a7a7a" stroke-width="0.8"/>
<text class="t" x="550.40" y="76.60" font-size="9.2" text-anchor="end">2.0</text>
<line x1="552.10" y1="47.40" x2="554.30" y2="47.40" stroke="#7a7a7a" stroke-width="0.8"/>
<text class="t" x="550.40" y="50.60" font-size="9.2" text-anchor="end">2.5</text>
<line x1="552.10" y1="21.40" x2="554.30" y2="21.40" stroke="#7a7a7a" stroke-width="0.8"/>
<text class="t" x="550.40" y="24.60" font-size="9.2" text-anchor="end">3.0</text>
<line x1="554.30" y1="177.40" x2="554.30" y2="179.60" stroke="#7a7a7a" stroke-width="0.8"/>
<text class="t" x="554.30" y="189.00" font-size="9.2" text-anchor="middle">4</text>
<line x1="606.62" y1="177.40" x2="606.62" y2="179.60" stroke="#7a7a7a" stroke-width="0.8"/>
<text class="t" x="606.62" y="189.00" font-size="9.2" text-anchor="middle">6</text>
<line x1="658.95" y1="177.40" x2="658.95" y2="179.60" stroke="#7a7a7a" stroke-width="0.8"/>
<text class="t" x="658.95" y="189.00" font-size="9.2" text-anchor="middle">8</text>
<line x1="711.27" y1="177.40" x2="711.27" y2="179.60" stroke="#7a7a7a" stroke-width="0.8"/>
<text class="t" x="711.27" y="189.00" font-size="9.2" text-anchor="middle">10</text>
<line x1="763.60" y1="177.40" x2="763.60" y2="179.60" stroke="#7a7a7a" stroke-width="0.8"/>
<text class="t" x="763.60" y="189.00" font-size="9.2" text-anchor="middle">12</text>
<text class="t" x="658.95" y="202.20" font-size="10.6" text-anchor="middle">Distance (Å)</text>
<text class="t" transform="translate(530.50,99.40) rotate(-90)" x="0" y="0" font-size="10.6" text-anchor="middle">Probability Density</text>
<text class="h" x="559.4" y="35.6" font-size="12.3">TM3-TM4</text>
<text class="h" x="516.5" y="19.6" font-size="17.5">C</text>
<polyline points="139.0,382.20 139.5,382.20 140.0,382.20 140.5,382.20 141.0,382.20 141.5,382.20 142.0,382.19 142.5,382.19 143.0,382.17 143.5,382.15 144.0,382.10 144.5,382.03 145.0,381.91 145.5,381.74 146.0,381.48 146.5,381.12 147.0,380.63 147.5,379.96 148.0,379.07 148.5,377.91 149.0,376.40 149.5,374.45 150.0,371.97 150.5,368.84 151.0,364.96 151.5,360.24 152.0,354.64 152.5,348.14 153.0,340.80 153.5,332.75 154.0,324.16 154.5,315.31 155.0,306.47 155.5,297.98 156.0,290.17 156.5,283.34 157.0,277.74 157.5,273.55 158.0,270.88 158.5,269.73 159.0,270.02 159.5,271.62 160.0,274.31 160.5,277.87 161.0,282.07 161.5,286.70 162.0,291.59 162.5,296.63 163.0,301.75 163.5,306.92 164.0,312.15 164.5,317.46 165.0,322.87 165.5,328.40 166.0,334.02 166.5,339.67 167.0,345.28 167.5,350.75 168.0,355.93 168.5,360.72 169.0,364.99 169.5,368.66 170.0,371.68 170.5,374.04 171.0,375.79 171.5,377.01 172.0,377.80 172.5,378.29 173.0,378.59 173.5,378.82 174.0,379.05 174.5,379.32 175.0,379.66 175.5,380.04 176.0,380.44 176.5,380.83 177.0,381.18 177.5,381.48 178.0,381.72 178.5,381.89 179.0,382.01 179.5,382.09 180.0,382.14 180.5,382.17 181.0,382.18" fill="none" stroke="#000000" stroke-width="2.0" stroke-linejoin="round" stroke-linecap="butt"/>
<polyline points="186.8,381.93 187.3,381.82 187.8,381.67 188.3,381.50 188.8,381.28 189.3,381.03 189.8,380.73 190.3,380.37 190.8,379.94 191.3,379.43 191.8,378.81 192.3,378.06 192.8,377.16 193.3,376.08 193.8,374.82 194.3,373.36 194.8,371.70 195.3,369.86 195.8,367.85 196.3,365.72 196.8,363.50 197.3,361.24 197.8,358.96 198.3,356.72 198.8,354.53 199.3,352.41 199.8,350.35 200.3,348.31 200.8,346.26 201.3,344.13 201.8,341.85 202.3,339.34 202.8,336.53 203.3,333.36 203.8,329.80 204.3,325.84 204.8,321.54 205.3,316.95 205.8,312.20 206.3,307.44 206.8,302.86 207.3,298.64 207.8,294.99 208.3,292.07 208.8,290.04 209.3,289.00 209.8,289.03 210.3,290.12 210.8,292.22 211.3,295.24 211.8,299.05 212.3,303.48 212.8,308.35 213.3,313.48 213.8,318.71 214.3,323.90 214.8,328.91 215.3,333.68 215.8,338.15 216.3,342.29 216.8,346.09 217.3,349.58 217.8,352.78 218.3,355.72 218.8,358.42 219.3,360.92 219.8,363.24 220.3,365.38 220.8,367.35 221.3,369.16 221.8,370.80 222.3,372.28 222.8,373.60 223.3,374.76 223.8,375.78 224.3,376.67 224.8,377.44 225.3,378.11 225.8,378.70 226.3,379.23 226.8,379.70 227.3,380.12 227.8,380.50 228.3,380.84 228.8,381.14 229.3,381.39 229.8,381.60 230.3,381.77 230.8,381.90 231.3,382.00 231.8,382.07 232.3,382.12" fill="none" stroke="#0000ff" stroke-width="2.0" stroke-linejoin="round" stroke-linecap="butt"/>
<polyline points="148.3,382.20 148.8,382.19 149.3,382.19 149.8,382.18 150.3,382.17 150.8,382.15 151.3,382.12 151.8,382.08 152.3,382.02 152.8,381.93 153.3,381.82 153.8,381.68 154.3,381.49 154.8,381.26 155.3,380.98 155.8,380.64 156.3,380.22 156.8,379.73 157.3,379.14 157.8,378.45 158.3,377.62 158.8,376.65 159.3,375.51 159.8,374.17 160.3,372.63 160.8,370.86 161.3,368.85 161.8,366.59 162.3,364.10 162.8,361.39 163.3,358.46 163.8,355.35 164.3,352.09 164.8,348.71 165.3,345.24 165.8,341.71 166.3,338.16 166.8,334.61 167.3,331.08 167.8,327.58 168.3,324.13 168.8,320.76 169.3,317.47 169.8,314.31 170.3,311.29 170.8,308.47 171.3,305.88 171.8,303.59 172.3,301.65 172.8,300.11 173.3,299.03 173.8,298.46 174.3,298.44 174.8,298.98 175.3,300.10 175.8,301.78 176.3,303.99 176.8,306.70 177.3,309.83 177.8,313.33 178.3,317.11 178.8,321.09 179.3,325.20 179.8,329.35 180.3,333.48 180.8,337.52 181.3,341.43 181.8,345.17 182.3,348.71 182.8,352.04 183.3,355.15 183.8,358.04 184.3,360.71 184.8,363.19 185.3,365.48 185.8,367.59 186.3,369.53 186.8,371.32 187.3,372.95 187.8,374.44 188.3,375.77 188.8,376.96 189.3,378.00 189.8,378.89 190.3,379.65 190.8,380.27 191.3,380.78 191.8,381.17 192.3,381.48 192.8,381.71 193.3,381.87 193.8,381.99 194.3,382.07 194.8,382.12 195.3,382.15 195.8,382.17 196.3,382.18 196.8,382.19 197.3,382.20 197.8,382.20" fill="none" stroke="#00ff00" stroke-width="2.0" stroke-linejoin="round" stroke-linecap="butt"/>
<polyline points="131.5,382.19 132.0,382.18 132.5,382.15 133.0,382.09 133.5,381.98 134.0,381.78 134.5,381.44 135.0,380.89 135.5,380.06 136.0,378.85 136.5,377.17 137.0,374.94 137.5,372.09 138.0,368.58 138.5,364.36 139.0,359.41 139.5,353.72 140.0,347.25 140.5,340.01 141.0,331.98 141.5,323.18 142.0,313.67 142.5,303.59 143.0,293.14 143.5,282.63 144.0,272.47 144.5,263.12 145.0,255.11 145.5,248.96 146.0,245.10 146.5,243.89 147.0,245.49 147.5,249.90 148.0,256.92 148.5,266.17 149.0,277.12 149.5,289.17 150.0,301.67 150.5,314.00 151.0,325.63 151.5,336.17 152.0,345.36 152.5,353.12 153.0,359.48 153.5,364.58 154.0,368.62 154.5,371.81 155.0,374.33 155.5,376.33 156.0,377.93 156.5,379.18 157.0,380.15 157.5,380.86 158.0,381.37 158.5,381.71 159.0,381.93 159.5,382.06 160.0,382.13 160.5,382.17 161.0,382.19 161.5,382.19 162.0,382.20" fill="none" stroke="#ff00ff" stroke-width="2.0" stroke-linejoin="round" stroke-linecap="butt"/>
<polyline points="167.4,382.20 167.9,382.20 168.4,382.20 168.9,382.20 169.4,382.19 169.9,382.19 170.4,382.18 170.9,382.17 171.4,382.15 171.9,382.13 172.4,382.09 172.9,382.04 173.4,381.97 173.9,381.87 174.4,381.74 174.9,381.57 175.4,381.36 175.9,381.10 176.4,380.77 176.9,380.38 177.4,379.92 177.9,379.38 178.4,378.77 178.9,378.06 179.4,377.27 179.9,376.39 180.4,375.42 180.9,374.35 181.4,373.19 181.9,371.92 182.4,370.55 182.9,369.06 183.4,367.47 183.9,365.77 184.4,363.95 184.9,362.02 185.4,359.99 185.9,357.86 186.4,355.65 186.9,353.38 187.4,351.06 187.9,348.72 188.4,346.38 188.9,344.05 189.4,341.78 189.9,339.58 190.4,337.46 190.9,335.46 191.4,333.57 191.9,331.81 192.4,330.19 192.9,328.70 193.4,327.35 193.9,326.12 194.4,325.02 194.9,324.03 195.4,323.15 195.9,322.37 196.4,321.68 196.9,321.09 197.4,320.59 197.9,320.19 198.4,319.89 198.9,319.72 199.4,319.67 199.9,319.77 200.4,320.04 200.9,320.49 201.4,321.14 201.9,322.00 202.4,323.08 202.9,324.39 203.4,325.92 203.9,327.68 204.4,329.65 204.9,331.82 205.4,334.16 205.9,336.65 206.4,339.27 206.9,341.97 207.4,344.74 207.9,347.52 208.4,350.30 208.9,353.04 209.4,355.71 209.9,358.28 210.4,360.74 210.9,363.06 211.4,365.24 211.9,367.25 212.4,369.10 212.9,370.78 213.4,372.29 213.9,373.64 214.4,374.82 214.9,375.85 215.4,376.74 215.9,377.50 216.4,378.14 216.9,378.68 217.4,379.13 217.9,379.51 218.4,379.83 218.9,380.10 219.4,380.33 219.9,380.53 220.4,380.71 220.9,380.88 221.4,381.04 221.9,381.19 222.4,381.33 222.9,381.46 223.4,381.58 223.9,381.68 224.4,381.78" fill="none" stroke="#00ffff" stroke-width="2.0" stroke-linejoin="round" stroke-linecap="butt"/>
<polyline points="126.5,382.20 127.0,382.20 127.5,382.20 128.0,382.20 128.5,382.20 129.0,382.19 129.5,382.18 130.0,382.14 130.5,382.06 131.0,381.89 131.5,381.58 132.0,381.03 132.5,380.18 133.0,378.96 133.5,377.33 134.0,375.30 134.5,372.90 135.0,370.19 135.5,367.17 136.0,363.80 136.5,359.93 137.0,355.36 137.5,349.85 138.0,343.13 138.5,335.00 139.0,325.43 139.5,314.59 140.0,302.97 140.5,291.30 141.0,280.54 141.5,271.64 142.0,265.37 142.5,262.12 143.0,261.77 143.5,263.72 144.0,267.08 144.5,270.89 145.0,274.44 145.5,277.41 146.0,279.94 146.5,282.53 147.0,285.81 147.5,290.36 148.0,296.49 148.5,304.20 149.0,313.16 149.5,322.81 150.0,332.53 150.5,341.70 151.0,349.85 151.5,356.73 152.0,362.29 152.5,366.67 153.0,370.09 153.5,372.82 154.0,375.06 154.5,376.94 155.0,378.49 155.5,379.73 156.0,380.67 156.5,381.32 157.0,381.73 157.5,381.97 158.0,382.10 158.5,382.16 159.0,382.18 159.5,382.19 160.0,382.20" fill="none" stroke="#ff0000" stroke-width="2.0" stroke-linejoin="round" stroke-linecap="butt"/>
<rect x="43.1" y="226.6" width="209.60" height="156.00" fill="none" stroke="#7a7a7a" stroke-width="0.9"/>
<line x1="40.90" y1="382.60" x2="43.10" y2="382.60" stroke="#7a7a7a" stroke-width="0.8"/>
<text class="t" x="39.20" y="385.80" font-size="9.2" text-anchor="end">0.0</text>
<line x1="40.90" y1="356.60" x2="43.10" y2="356.60" stroke="#7a7a7a" stroke-width="0.8"/>
<text class="t" x="39.20" y="359.80" font-size="9.2" text-anchor="end">0.5</text>
<line x1="40.90" y1="330.60" x2="43.10" y2="330.60" stroke="#7a7a7a" stroke-width="0.8"/>
<text class="t" x="39.20" y="333.80" font-size="9.2" text-anchor="end">1.0</text>
<line x1="40.90" y1="304.60" x2="43.10" y2="304.60" stroke="#7a7a7a" stroke-width="0.8"/>
<text class="t" x="39.20" y="307.80" font-size="9.2" text-anchor="end">1.5</text>
<line x1="40.90" y1="278.60" x2="43.10" y2="278.60" stroke="#7a7a7a" stroke-width="0.8"/>
<text class="t" x="39.20" y="281.80" font-size="9.2" text-anchor="end">2.0</text>
<line x1="40.90" y1="252.60" x2="43.10" y2="252.60" stroke="#7a7a7a" stroke-width="0.8"/>
<text class="t" x="39.20" y="255.80" font-size="9.2" text-anchor="end">2.5</text>
<line x1="40.90" y1="226.60" x2="43.10" y2="226.60" stroke="#7a7a7a" stroke-width="0.8"/>
<text class="t" x="39.20" y="229.80" font-size="9.2" text-anchor="end">3.0</text>
<line x1="43.10" y1="382.60" x2="43.10" y2="384.80" stroke="#7a7a7a" stroke-width="0.8"/>
<text class="t" x="43.10" y="394.20" font-size="9.2" text-anchor="middle">8</text>
<line x1="95.50" y1="382.60" x2="95.50" y2="384.80" stroke="#7a7a7a" stroke-width="0.8"/>
<text class="t" x="95.50" y="394.20" font-size="9.2" text-anchor="middle">10</text>
<line x1="147.90" y1="382.60" x2="147.90" y2="384.80" stroke="#7a7a7a" stroke-width="0.8"/>
<text class="t" x="147.90" y="394.20" font-size="9.2" text-anchor="middle">12</text>
<line x1="200.30" y1="382.60" x2="200.30" y2="384.80" stroke="#7a7a7a" stroke-width="0.8"/>
<text class="t" x="200.30" y="394.20" font-size="9.2" text-anchor="middle">14</text>
<line x1="252.70" y1="382.60" x2="252.70" y2="384.80" stroke="#7a7a7a" stroke-width="0.8"/>
<text class="t" x="252.70" y="394.20" font-size="9.2" text-anchor="middle">16</text>
<text class="t" x="147.90" y="407.40" font-size="10.6" text-anchor="middle">Distance (Å)</text>
<text class="t" transform="translate(19.30,304.60) rotate(-90)" x="0" y="0" font-size="10.6" text-anchor="middle">Probability Density</text>
<text class="h" x="50.1" y="243.3" font-size="12.3">TM3-TM5</text>
<text class="h" x="6.3" y="218.6" font-size="17.5">D</text>
<polyline points="372.0,379.90 372.5,379.90 373.0,379.89 373.5,379.89 374.0,379.87 374.5,379.85 375.0,379.82 375.5,379.77 376.0,379.70 376.5,379.59 377.0,379.45 377.5,379.28 378.0,379.07 378.5,378.82 379.0,378.55 379.5,378.27 380.0,377.98 380.5,377.70 381.0,377.43 381.5,377.15 382.0,376.87 382.5,376.56 383.0,376.18 383.5,375.72 384.0,375.13 384.5,374.39 385.0,373.48 385.5,372.39 386.0,371.11 386.5,369.64 387.0,368.00 387.5,366.21 388.0,364.29 388.5,362.28 389.0,360.21 389.5,358.11 390.0,356.03 390.5,354.00 391.0,352.05 391.5,350.19 392.0,348.44 392.5,346.79 393.0,345.24 393.5,343.77 394.0,342.35 394.5,340.96 395.0,339.58 395.5,338.20 396.0,336.79 396.5,335.36 397.0,333.92 397.5,332.48 398.0,331.04 398.5,329.62 399.0,328.22 399.5,326.83 400.0,325.45 400.5,324.05 401.0,322.61 401.5,321.12 402.0,319.57 402.5,317.96 403.0,316.33 403.5,314.73 404.0,313.23 404.5,311.93 405.0,310.92 405.5,310.33 406.0,310.24 406.5,310.73 407.0,311.84 407.5,313.59 408.0,315.94 408.5,318.83 409.0,322.18 409.5,325.86 410.0,329.76 410.5,333.76 411.0,337.74 411.5,341.60 412.0,345.29 412.5,348.76 413.0,351.99 413.5,354.98 414.0,357.73 414.5,360.28 415.0,362.63 415.5,364.81 416.0,366.82 416.5,368.66 417.0,370.33 417.5,371.82 418.0,373.12 418.5,374.24 419.0,375.17 419.5,375.95 420.0,376.58 420.5,377.10 421.0,377.53 421.5,377.89 422.0,378.21 422.5,378.50 423.0,378.76 423.5,378.99 424.0,379.20 424.5,379.37 425.0,379.52 425.5,379.63 426.0,379.72 426.5,379.79 427.0,379.83 427.5,379.86 428.0,379.88 428.5,379.89 429.0,379.89 429.5,379.90 430.0,379.90" fill="none" stroke="#000000" stroke-width="2.0" stroke-linejoin="round" stroke-linecap="butt"/>
<polyline points="372.3,379.90 372.8,379.90 373.3,379.90 373.8,379.90 374.3,379.89 374.8,379.88 375.3,379.87 375.8,379.84 376.3,379.80 376.8,379.73 377.3,379.64 377.8,379.51 378.3,379.34 378.8,379.13 379.3,378.88 379.8,378.57 380.3,378.23 380.8,377.82 381.3,377.36 381.8,376.81 382.3,376.17 382.8,375.42 383.3,374.53 383.8,373.51 384.3,372.35 384.8,371.05 385.3,369.62 385.8,368.07 386.3,366.41 386.8,364.63 387.3,362.73 387.8,360.69 388.3,358.48 388.8,356.08 389.3,353.47 389.8,350.64 390.3,347.59 390.8,344.33 391.3,340.90 391.8,337.35 392.3,333.72 392.8,330.08 393.3,326.49 393.8,323.01 394.3,319.66 394.8,316.49 395.3,313.49 395.8,310.66 396.3,308.02 396.8,305.57 397.3,303.31 397.8,301.28 398.3,299.53 398.8,298.12 399.3,297.14 399.8,296.65 400.3,296.74 400.8,297.45 401.3,298.82 401.8,300.86 402.3,303.53 402.8,306.77 403.3,310.51 403.8,314.65 404.3,319.06 404.8,323.65 405.3,328.29 405.8,332.89 406.3,337.36 406.8,341.64 407.3,345.67 407.8,349.43 408.3,352.90 408.8,356.07 409.3,358.95 409.8,361.56 410.3,363.90 410.8,365.99 411.3,367.84 411.8,369.48 412.3,370.93 412.8,372.19 413.3,373.29 413.8,374.25 414.3,375.10 414.8,375.85 415.3,376.52 415.8,377.12 416.3,377.66 416.8,378.13 417.3,378.55 417.8,378.90 418.3,379.18 418.8,379.41 419.3,379.58 419.8,379.70 420.3,379.78 420.8,379.83 421.3,379.86 421.8,379.88 422.3,379.89 422.8,379.90 423.3,379.90 423.8,379.90 424.3,379.90 424.8,379.90 425.3,379.90" fill="none" stroke="#0000ff" stroke-width="2.0" stroke-linejoin="round" stroke-linecap="butt"/>
<polyline points="355.6,379.90 356.1,379.90 356.6,379.90 357.1,379.90 357.6,379.90 358.1,379.90 358.6,379.89 359.1,379.89 359.6,379.88 360.1,379.86 360.6,379.83 361.1,379.79 361.6,379.73 362.1,379.64 362.6,379.52 363.1,379.36 363.6,379.14 364.1,378.86 364.6,378.49 365.1,378.01 365.6,377.40 366.1,376.64 366.6,375.68 367.1,374.49 367.6,373.04 368.1,371.30 368.6,369.25 369.1,366.86 369.6,364.16 370.1,361.17 370.6,357.92 371.1,354.47 371.6,350.89 372.1,347.27 372.6,343.66 373.1,340.12 373.6,336.71 374.1,333.44 374.6,330.30 375.1,327.26 375.6,324.30 376.1,321.35 376.6,318.38 377.1,315.37 377.6,312.33 378.1,309.28 378.6,306.31 379.1,303.51 379.6,301.00 380.1,298.91 380.6,297.36 381.1,296.43 381.6,296.20 382.1,296.67 382.6,297.84 383.1,299.65 383.6,302.02 384.1,304.86 384.6,308.07 385.1,311.56 385.6,315.27 386.1,319.12 386.6,323.10 387.1,327.14 387.6,331.24 388.1,335.35 388.6,339.44 389.1,343.46 389.6,347.33 390.1,351.01 390.6,354.42 391.1,357.52 391.6,360.25 392.1,362.61 392.6,364.60 393.1,366.24 393.6,367.57 394.1,368.66 394.6,369.58 395.1,370.38 395.6,371.12 396.1,371.85 396.6,372.60 397.1,373.38 397.6,374.18 398.1,374.98 398.6,375.78 399.1,376.53 399.6,377.22 400.1,377.84 400.6,378.36 401.1,378.78 401.6,379.12 402.1,379.37 402.6,379.55 403.1,379.68 403.6,379.77 404.1,379.82 404.6,379.86 405.1,379.88 405.6,379.89 406.1,379.89 406.6,379.90 407.1,379.90 407.6,379.90 408.1,379.90 408.6,379.90 409.1,379.90 409.6,379.90 410.1,379.90" fill="none" stroke="#00ff00" stroke-width="2.0" stroke-linejoin="round" stroke-linecap="butt"/>
<polyline points="347.0,379.90 347.5,379.90 348.0,379.90 348.5,379.89 349.0,379.89 349.5,379.87 350.0,379.85 350.5,379.81 351.0,379.75 351.5,379.65 352.0,379.51 352.5,379.31 353.0,379.05 353.5,378.72 354.0,378.32 354.5,377.83 355.0,377.27 355.5,376.64 356.0,375.92 356.5,375.11 357.0,374.20 357.5,373.16 358.0,371.97 358.5,370.61 359.0,369.05 359.5,367.26 360.0,365.22 360.5,362.91 361.0,360.33 361.5,357.46 362.0,354.30 362.5,350.85 363.0,347.12 363.5,343.11 364.0,338.85 364.5,334.37 365.0,329.72 365.5,324.98 366.0,320.23 366.5,315.58 367.0,311.17 367.5,307.13 368.0,303.59 368.5,300.69 369.0,298.51 369.5,297.12 370.0,296.53 370.5,296.72 371.0,297.61 371.5,299.09 372.0,301.04 372.5,303.31 373.0,305.78 373.5,308.36 374.0,310.96 374.5,313.53 375.0,316.08 375.5,318.59 376.0,321.10 376.5,323.63 377.0,326.19 377.5,328.82 378.0,331.50 378.5,334.25 379.0,337.06 379.5,339.91 380.0,342.81 380.5,345.74 381.0,348.69 381.5,351.65 382.0,354.60 382.5,357.51 383.0,360.33 383.5,363.04 384.0,365.59 384.5,367.93 385.0,370.03 385.5,371.88 386.0,373.46 386.5,374.78 387.0,375.85 387.5,376.72 388.0,377.41 388.5,377.96 389.0,378.39 389.5,378.74 390.0,379.02 390.5,379.24 391.0,379.43 391.5,379.57 392.0,379.67 392.5,379.75 393.0,379.81 393.5,379.84 394.0,379.87" fill="none" stroke="#ff00ff" stroke-width="2.0" stroke-linejoin="round" stroke-linecap="butt"/>
<polyline points="394.7,379.90 395.2,379.90 395.7,379.90 396.2,379.90 396.7,379.90 397.2,379.90 397.7,379.90 398.2,379.90 398.7,379.90 399.2,379.90 399.7,379.90 400.2,379.90 400.7,379.90 401.2,379.90 401.7,379.90 402.2,379.90 402.7,379.90 403.2,379.90 403.7,379.90 404.2,379.90 404.7,379.90 405.2,379.89 405.7,379.88 406.2,379.86 406.7,379.83 407.2,379.78 407.7,379.70 408.2,379.58 408.7,379.41 409.2,379.19 409.7,378.91 410.2,378.58 410.7,378.19 411.2,377.76 411.7,377.30 412.2,376.82 412.7,376.33 413.2,375.84 413.7,375.34 414.2,374.83 414.7,374.30 415.2,373.73 415.7,373.09 416.2,372.38 416.7,371.58 417.2,370.66 417.7,369.63 418.2,368.48 418.7,367.19 419.2,365.76 419.7,364.19 420.2,362.47 420.7,360.60 421.2,358.58 421.7,356.42 422.2,354.15 422.7,351.80 423.2,349.42 423.7,347.06 424.2,344.78 424.7,342.63 425.2,340.66 425.7,338.91 426.2,337.40 426.7,336.12 427.2,335.07 427.7,334.22 428.2,333.56 428.7,333.05 429.2,332.69 429.7,332.47 430.2,332.40 430.7,332.50 431.2,332.79 431.7,333.27 432.2,333.97 432.7,334.87 433.2,335.95 433.7,337.17 434.2,338.48 434.7,339.84 435.2,341.19 435.7,342.50 436.2,343.76 436.7,344.94 437.2,346.04 437.7,347.09 438.2,348.10 438.7,349.08 439.2,350.04 439.7,350.98 440.2,351.92 440.7,352.84 441.2,353.73 441.7,354.58 442.2,355.38 442.7,356.13 443.2,356.82 443.7,357.45 444.2,358.02 444.7,358.54 445.2,359.00 445.7,359.42 446.2,359.79 446.7,360.12 447.2,360.41 447.7,360.66 448.2,360.87 448.7,361.05 449.2,361.21 449.7,361.34 450.2,361.44 450.7,361.53 451.2,361.60 451.7,361.66 452.2,361.71 452.7,361.76 453.2,361.81 453.7,361.87 454.2,361.95 454.7,362.06 455.2,362.20 455.7,362.39 456.2,362.64 456.7,362.93 457.2,363.27 457.7,363.65 458.2,364.08 458.7,364.52 459.2,364.99 459.7,365.47 460.2,365.95 460.7,366.44 461.2,366.94 461.7,367.45 462.2,367.99 462.7,368.56 463.2,369.16 463.7,369.81 464.2,370.49 464.7,371.19 465.2,371.92 465.7,372.65 466.2,373.36 466.7,374.04 467.2,374.68 467.7,375.25 468.2,375.76 468.7,376.21 469.2,376.60 469.7,376.96 470.2,377.28 470.7,377.59 471.2,377.89 471.7,378.18 472.2,378.47 472.7,378.74 473.2,378.99 473.7,379.22 474.2,379.40 474.7,379.55 475.2,379.67 475.7,379.75 476.2,379.81 476.7,379.85 477.2,379.87 477.7,379.89 478.2,379.89 478.7,379.90 479.2,379.90 479.7,379.90 480.2,379.90 480.7,379.90 481.2,379.90 481.7,379.90 482.2,379.90 482.7,379.90 483.2,379.90 483.7,379.90 484.2,379.90 484.7,379.90 485.2,379.90 485.7,379.90 486.2,379.90 486.7,379.90 487.2,379.90 487.7,379.90" fill="none" stroke="#00ffff" stroke-width="2.0" stroke-linejoin="round" stroke-linecap="butt"/>
<polyline points="337.7,379.90 338.2,379.90 338.7,379.90 339.2,379.90 339.7,379.90 340.2,379.89 340.7,379.88 341.2,379.86 341.7,379.84 342.2,379.79 342.7,379.73 343.2,379.63 343.7,379.49 344.2,379.30 344.7,379.06 345.2,378.76 345.7,378.39 346.2,377.97 346.7,377.47 347.2,376.89 347.7,376.21 348.2,375.40 348.7,374.41 349.2,373.19 349.7,371.68 350.2,369.81 350.7,367.54 351.2,364.81 351.7,361.62 352.2,357.97 352.7,353.90 353.2,349.49 353.7,344.82 354.2,340.00 354.7,335.15 355.2,330.38 355.7,325.80 356.2,321.52 356.7,317.62 357.2,314.17 357.7,311.20 358.2,308.74 358.7,306.80 359.2,305.34 359.7,304.33 360.2,303.71 360.7,303.42 361.2,303.39 361.7,303.55 362.2,303.84 362.7,304.23 363.2,304.70 363.7,305.26 364.2,305.93 364.7,306.78 365.2,307.87 365.7,309.27 366.2,311.05 366.7,313.26 367.2,315.93 367.7,319.04 368.2,322.56 368.7,326.42 369.2,330.50 369.7,334.70 370.2,338.90 370.7,342.99 371.2,346.86 371.7,350.47 372.2,353.76 372.7,356.73 373.2,359.39 373.7,361.77 374.2,363.93 374.7,365.89 375.2,367.69 375.7,369.37 376.2,370.94 376.7,372.39 377.2,373.73 377.7,374.93 378.2,375.99 378.7,376.91 379.2,377.67 379.7,378.28 380.2,378.77 380.7,379.13 381.2,379.39 381.7,379.58 382.2,379.70 382.7,379.78 383.2,379.83 383.7,379.86 384.2,379.88 384.7,379.89" fill="none" stroke="#ff0000" stroke-width="2.0" stroke-linejoin="round" stroke-linecap="butt"/>
<rect x="298.3" y="224.3" width="209.70" height="156.00" fill="none" stroke="#7a7a7a" stroke-width="0.9"/>
<line x1="296.10" y1="380.30" x2="298.30" y2="380.30" stroke="#7a7a7a" stroke-width="0.8"/>
<text class="t" x="294.40" y="383.50" font-size="9.2" text-anchor="end">0.0</text>
<line x1="296.10" y1="354.30" x2="298.30" y2="354.30" stroke="#7a7a7a" stroke-width="0.8"/>
<text class="t" x="294.40" y="357.50" font-size="9.2" text-anchor="end">0.5</text>
<line x1="296.10" y1="328.30" x2="298.30" y2="328.30" stroke="#7a7a7a" stroke-width="0.8"/>
<text class="t" x="294.40" y="331.50" font-size="9.2" text-anchor="end">1.0</text>
<line x1="296.10" y1="302.30" x2="298.30" y2="302.30" stroke="#7a7a7a" stroke-width="0.8"/>
<text class="t" x="294.40" y="305.50" font-size="9.2" text-anchor="end">1.5</text>
<line x1="296.10" y1="276.30" x2="298.30" y2="276.30" stroke="#7a7a7a" stroke-width="0.8"/>
<text class="t" x="294.40" y="279.50" font-size="9.2" text-anchor="end">2.0</text>
<line x1="296.10" y1="250.30" x2="298.30" y2="250.30" stroke="#7a7a7a" stroke-width="0.8"/>
<text class="t" x="294.40" y="253.50" font-size="9.2" text-anchor="end">2.5</text>
<line x1="296.10" y1="224.30" x2="298.30" y2="224.30" stroke="#7a7a7a" stroke-width="0.8"/>
<text class="t" x="294.40" y="227.50" font-size="9.2" text-anchor="end">3.0</text>
<line x1="298.30" y1="380.30" x2="298.30" y2="382.50" stroke="#7a7a7a" stroke-width="0.8"/>
<text class="t" x="298.30" y="391.90" font-size="9.2" text-anchor="middle">12</text>
<line x1="350.73" y1="380.30" x2="350.73" y2="382.50" stroke="#7a7a7a" stroke-width="0.8"/>
<text class="t" x="350.73" y="391.90" font-size="9.2" text-anchor="middle">14</text>
<line x1="403.15" y1="380.30" x2="403.15" y2="382.50" stroke="#7a7a7a" stroke-width="0.8"/>
<text class="t" x="403.15" y="391.90" font-size="9.2" text-anchor="middle">16</text>
<line x1="455.57" y1="380.30" x2="455.57" y2="382.50" stroke="#7a7a7a" stroke-width="0.8"/>
<text class="t" x="455.57" y="391.90" font-size="9.2" text-anchor="middle">18</text>
<line x1="508.00" y1="380.30" x2="508.00" y2="382.50" stroke="#7a7a7a" stroke-width="0.8"/>
<text class="t" x="508.00" y="391.90" font-size="9.2" text-anchor="middle">20</text>
<text class="t" x="403.15" y="405.10" font-size="10.6" text-anchor="middle">Distance (Å)</text>
<text class="t" transform="translate(274.50,302.30) rotate(-90)" x="0" y="0" font-size="10.6" text-anchor="middle">Probability Density</text>
<text class="h" x="304.7" y="239.6" font-size="12.3">TM3-TM6</text>
<text class="h" x="259.5" y="218.6" font-size="17.5">E</text>
<polyline points="603.0,379.90 603.5,379.90 604.0,379.90 604.5,379.90 605.0,379.90 605.5,379.90 606.0,379.90 606.5,379.89 607.0,379.89 607.5,379.88 608.0,379.86 608.5,379.82 609.0,379.75 609.5,379.65 610.0,379.49 610.5,379.25 611.0,378.92 611.5,378.48 612.0,377.91 612.5,377.21 613.0,376.37 613.5,375.40 614.0,374.31 614.5,373.11 615.0,371.82 615.5,370.44 616.0,368.97 616.5,367.41 617.0,365.72 617.5,363.89 618.0,361.86 618.5,359.60 619.0,357.07 619.5,354.22 620.0,351.04 620.5,347.52 621.0,343.66 621.5,339.50 622.0,335.09 622.5,330.49 623.0,325.81 623.5,321.13 624.0,316.57 624.5,312.24 625.0,308.24 625.5,304.68 626.0,301.63 626.5,299.16 627.0,297.31 627.5,296.08 628.0,295.47 628.5,295.44 629.0,295.93 629.5,296.87 630.0,298.20 630.5,299.83 631.0,301.71 631.5,303.78 632.0,306.01 632.5,308.38 633.0,310.92 633.5,313.63 634.0,316.54 634.5,319.70 635.0,323.11 635.5,326.78 636.0,330.69 636.5,334.79 637.0,339.02 637.5,343.28 638.0,347.49 638.5,351.52 639.0,355.31 639.5,358.77 640.0,361.85 640.5,364.52 641.0,366.78 641.5,368.65 642.0,370.17 642.5,371.39 643.0,372.37 643.5,373.16 644.0,373.82 644.5,374.38 645.0,374.90 645.5,375.38 646.0,375.85 646.5,376.32 647.0,376.79 647.5,377.25 648.0,377.69 648.5,378.10 649.0,378.48 649.5,378.81 650.0,379.09 650.5,379.32 651.0,379.50 651.5,379.63 652.0,379.73 652.5,379.80 653.0,379.84" fill="none" stroke="#000000" stroke-width="2.0" stroke-linejoin="round" stroke-linecap="butt"/>
<polyline points="569.3,379.90 569.8,379.90 570.3,379.90 570.8,379.90 571.3,379.90 571.8,379.90 572.3,379.89 572.8,379.88 573.3,379.87 573.8,379.84 574.3,379.80 574.8,379.74 575.3,379.64 575.8,379.51 576.3,379.33 576.8,379.11 577.3,378.85 577.8,378.54 578.3,378.20 578.8,377.82 579.3,377.43 579.8,377.01 580.3,376.57 580.8,376.12 581.3,375.64 581.8,375.14 582.3,374.60 582.8,374.02 583.3,373.39 583.8,372.72 584.3,371.99 584.8,371.22 585.3,370.40 585.8,369.54 586.3,368.65 586.8,367.74 587.3,366.81 587.8,365.87 588.3,364.91 588.8,363.95 589.3,362.97 589.8,361.96 590.3,360.91 590.8,359.79 591.3,358.59 591.8,357.28 592.3,355.85 592.8,354.30 593.3,352.64 593.8,350.88 594.3,349.06 594.8,347.23 595.3,345.42 595.8,343.69 596.3,342.08 596.8,340.60 597.3,339.29 597.8,338.13 598.3,337.11 598.8,336.20 599.3,335.37 599.8,334.59 600.3,333.85 600.8,333.13 601.3,332.42 601.8,331.75 602.3,331.13 602.8,330.59 603.3,330.14 603.8,329.80 604.3,329.59 604.8,329.49 605.3,329.50 605.8,329.60 606.3,329.75 606.8,329.95 607.3,330.18 607.8,330.42 608.3,330.69 608.8,330.99 609.3,331.37 609.8,331.83 610.3,332.42 610.8,333.16 611.3,334.08 611.8,335.17 612.3,336.45 612.8,337.89 613.3,339.49 613.8,341.21 614.3,343.03 614.8,344.92 615.3,346.85 615.8,348.80 616.3,350.75 616.8,352.69 617.3,354.60 617.8,356.49 618.3,358.34 618.8,360.14 619.3,361.88 619.8,363.55 620.3,365.14 620.8,366.62 621.3,368.00 621.8,369.25 622.3,370.37 622.8,371.38 623.3,372.28 623.8,373.08 624.3,373.79 624.8,374.43 625.3,375.02 625.8,375.56 626.3,376.07 626.8,376.55 627.3,377.00 627.8,377.42 628.3,377.81 628.8,378.16 629.3,378.49 629.8,378.77" fill="none" stroke="#0000ff" stroke-width="2.0" stroke-linejoin="round" stroke-linecap="butt"/>
<polyline points="675.8,379.90 676.3,379.90 676.8,379.90 677.3,379.90 677.8,379.90 678.3,379.90 678.8,379.89 679.3,379.89 679.8,379.88 680.3,379.86 680.8,379.83 681.3,379.79 681.8,379.73 682.3,379.64 682.8,379.52 683.3,379.37 683.8,379.20 684.3,379.00 684.8,378.78 685.3,378.55 685.8,378.30 686.3,378.05 686.8,377.78 687.3,377.48 687.8,377.14 688.3,376.74 688.8,376.27 689.3,375.73 689.8,375.12 690.3,374.45 690.8,373.74 691.3,372.99 691.8,372.23 692.3,371.45 692.8,370.63 693.3,369.73 693.8,368.67 694.3,367.38 694.8,365.77 695.3,363.76 695.8,361.29 696.3,358.35 696.8,354.96 697.3,351.21 697.8,347.24 698.3,343.23 698.8,339.36 699.3,335.81 699.8,332.71 700.3,330.16 700.8,328.15 701.3,326.62 701.8,325.44 702.3,324.45 702.8,323.47 703.3,322.35 703.8,320.97 704.3,319.30 704.8,317.36 705.3,315.22 705.8,313.02 706.3,310.92 706.8,309.07 707.3,307.60 707.8,306.61 708.3,306.18 708.8,306.32 709.3,307.04 709.8,308.32 710.3,310.12 710.8,312.40 711.3,315.11 711.8,318.19 712.3,321.60 712.8,325.25 713.3,329.08 713.8,333.00 714.3,336.94 714.8,340.84 715.3,344.63 715.8,348.26 716.3,351.71 716.8,354.94 717.3,357.95 717.8,360.73 718.3,363.26 718.8,365.56 719.3,367.62 719.8,369.45 720.3,371.05 720.8,372.46 721.3,373.69 721.8,374.76 722.3,375.70 722.8,376.53 723.3,377.25 723.8,377.87 724.3,378.39 724.8,378.81 725.3,379.15 725.8,379.40 726.3,379.58 726.8,379.71 727.3,379.79 727.8,379.84 728.3,379.87 728.8,379.88 729.3,379.89 729.8,379.90 730.3,379.90 730.8,379.90 731.3,379.90 731.8,379.90 732.3,379.90 732.8,379.90" fill="none" stroke="#00ff00" stroke-width="2.0" stroke-linejoin="round" stroke-linecap="butt"/>
<polyline points="628.5,379.87 629.0,379.85 629.5,379.80 630.0,379.73 630.5,379.60 631.0,379.41 631.5,379.14 632.0,378.76 632.5,378.26 633.0,377.63 633.5,376.87 634.0,375.97 634.5,374.94 635.0,373.78 635.5,372.47 636.0,370.99 636.5,369.28 637.0,367.28 637.5,364.91 638.0,362.10 638.5,358.78 639.0,354.90 639.5,350.45 640.0,345.45 640.5,339.96 641.0,334.07 641.5,327.90 642.0,321.59 642.5,315.29 643.0,309.16 643.5,303.33 644.0,297.94 644.5,293.12 645.0,288.98 645.5,285.60 646.0,283.06 646.5,281.39 647.0,280.60 647.5,280.66 648.0,281.52 648.5,283.09 649.0,285.24 649.5,287.85 650.0,290.78 650.5,293.92 651.0,297.16 651.5,300.46 652.0,303.77 652.5,307.12 653.0,310.53 653.5,314.05 654.0,317.73 654.5,321.62 655.0,325.72 655.5,330.02 656.0,334.48 656.5,339.01 657.0,343.53 657.5,347.96 658.0,352.19 658.5,356.16 659.0,359.80 659.5,363.09 660.0,366.02 660.5,368.59 661.0,370.81 661.5,372.71 662.0,374.31 662.5,375.65 663.0,376.74 663.5,377.62 664.0,378.30 664.5,378.81 665.0,379.19 665.5,379.45 666.0,379.63 666.5,379.74 667.0,379.81 667.5,379.85 668.0,379.88" fill="none" stroke="#ff00ff" stroke-width="2.0" stroke-linejoin="round" stroke-linecap="butt"/>
<polyline points="653.4,379.90 653.9,379.90 654.4,379.90 654.9,379.90 655.4,379.90 655.9,379.90 656.4,379.90 656.9,379.90 657.4,379.90 657.9,379.90 658.4,379.90 658.9,379.90 659.4,379.90 659.9,379.90 660.4,379.90 660.9,379.90 661.4,379.89 661.9,379.89 662.4,379.88 662.9,379.87 663.4,379.84 663.9,379.81 664.4,379.76 664.9,379.68 665.4,379.58 665.9,379.45 666.4,379.27 666.9,379.06 667.4,378.80 667.9,378.49 668.4,378.14 668.9,377.76 669.4,377.33 669.9,376.88 670.4,376.40 670.9,375.91 671.4,375.38 671.9,374.83 672.4,374.25 672.9,373.63 673.4,372.96 673.9,372.23 674.4,371.44 674.9,370.58 675.4,369.65 675.9,368.65 676.4,367.59 676.9,366.48 677.4,365.33 677.9,364.15 678.4,362.95 678.9,361.76 679.4,360.57 679.9,359.39 680.4,358.24 680.9,357.11 681.4,356.02 681.9,354.96 682.4,353.94 682.9,352.97 683.4,352.05 683.9,351.18 684.4,350.38 684.9,349.65 685.4,348.99 685.9,348.42 686.4,347.94 686.9,347.55 687.4,347.24 687.9,347.03 688.4,346.90 688.9,346.85 689.4,346.89 689.9,347.00 690.4,347.18 690.9,347.44 691.4,347.76 691.9,348.15 692.4,348.60 692.9,349.12 693.4,349.69 693.9,350.31 694.4,350.98 694.9,351.68 695.4,352.39 695.9,353.12 696.4,353.84 696.9,354.54 697.4,355.20 697.9,355.83 698.4,356.40 698.9,356.92 699.4,357.38 699.9,357.77 700.4,358.11 700.9,358.38 701.4,358.60 701.9,358.76 702.4,358.87 702.9,358.95 703.4,358.98 703.9,358.99 704.4,358.96 704.9,358.92 705.4,358.86 705.9,358.78 706.4,358.70 706.9,358.62 707.4,358.53 707.9,358.44 708.4,358.34 708.9,358.25 709.4,358.15 709.9,358.04 710.4,357.93 710.9,357.81 711.4,357.68 711.9,357.54 712.4,357.40 712.9,357.25 713.4,357.10 713.9,356.96 714.4,356.84 714.9,356.73 715.4,356.65 715.9,356.60 716.4,356.59 716.9,356.62 717.4,356.71 717.9,356.85 718.4,357.05 718.9,357.30 719.4,357.62 719.9,357.99 720.4,358.43 720.9,358.92 721.4,359.47 721.9,360.07 722.4,360.71 722.9,361.41 723.4,362.14 723.9,362.91 724.4,363.71 724.9,364.53 725.4,365.37 725.9,366.23 726.4,367.09 726.9,367.96 727.4,368.81 727.9,369.66 728.4,370.49 728.9,371.30 729.4,372.08 729.9,372.82 730.4,373.54 730.9,374.22 731.4,374.86 731.9,375.47 732.4,376.04 732.9,376.57 733.4,377.06 733.9,377.51 734.4,377.91 734.9,378.28 735.4,378.60 735.9,378.87 736.4,379.11 736.9,379.30 737.4,379.46 737.9,379.58 738.4,379.68 738.9,379.75 739.4,379.80 739.9,379.84 740.4,379.86 740.9,379.88 741.4,379.89 741.9,379.89 742.4,379.90 742.9,379.90 743.4,379.90 743.9,379.90 744.4,379.90 744.9,379.90 745.4,379.90 745.9,379.90 746.4,379.90 746.9,379.90 747.4,379.90 747.9,379.90 748.4,379.90 748.9,379.90 749.4,379.90 749.9,379.90 750.4,379.90 750.9,379.90 751.4,379.90 751.9,379.90 752.4,379.90 752.9,379.90 753.4,379.90 753.9,379.90 754.4,379.90 754.9,379.90 755.4,379.90 755.9,379.90" fill="none" stroke="#00ffff" stroke-width="2.0" stroke-linejoin="round" stroke-linecap="butt"/>
<polyline points="628.5,379.90 629.0,379.90 629.5,379.90 630.0,379.90 630.5,379.90 631.0,379.90 631.5,379.90 632.0,379.90 632.5,379.90 633.0,379.90 633.5,379.90 634.0,379.90 634.5,379.89 635.0,379.89 635.5,379.88 636.0,379.86 636.5,379.83 637.0,379.78 637.5,379.71 638.0,379.60 638.5,379.45 639.0,379.25 639.5,378.99 640.0,378.68 640.5,378.32 641.0,377.92 641.5,377.50 642.0,377.07 642.5,376.66 643.0,376.27 643.5,375.90 644.0,375.55 644.5,375.19 645.0,374.79 645.5,374.30 646.0,373.68 646.5,372.88 647.0,371.88 647.5,370.63 648.0,369.14 648.5,367.41 649.0,365.46 649.5,363.33 650.0,361.06 650.5,358.70 651.0,356.30 651.5,353.87 652.0,351.44 652.5,349.01 653.0,346.56 653.5,344.07 654.0,341.48 654.5,338.77 655.0,335.91 655.5,332.89 656.0,329.70 656.5,326.40 657.0,323.05 657.5,319.74 658.0,316.57 658.5,313.65 659.0,311.09 659.5,309.00 660.0,307.43 660.5,306.43 661.0,306.01 661.5,306.14 662.0,306.76 662.5,307.80 663.0,309.17 663.5,310.78 664.0,312.55 664.5,314.41 665.0,316.30 665.5,318.20 666.0,320.10 666.5,322.01 667.0,323.95 667.5,325.96 668.0,328.07 668.5,330.32 669.0,332.73 669.5,335.31 670.0,338.06 670.5,340.97 671.0,344.00 671.5,347.09 672.0,350.20 672.5,353.26 673.0,356.20 673.5,358.97 674.0,361.53 674.5,363.83 675.0,365.88 675.5,367.66 676.0,369.20 676.5,370.51 677.0,371.64 677.5,372.61 678.0,373.47 678.5,374.22 679.0,374.90 679.5,375.50 680.0,376.04 680.5,376.51 681.0,376.89 681.5,377.20 682.0,377.44 682.5,377.61 683.0,377.72 683.5,377.81 684.0,377.88 684.5,377.96 685.0,378.07 685.5,378.21 686.0,378.38 686.5,378.57 687.0,378.78 687.5,378.99 688.0,379.19 688.5,379.36 689.0,379.51 689.5,379.63 690.0,379.72 690.5,379.79 691.0,379.83 691.5,379.86 692.0,379.88 692.5,379.89 693.0,379.89" fill="none" stroke="#ff0000" stroke-width="2.0" stroke-linejoin="round" stroke-linecap="butt"/>
<rect x="554.3" y="224.3" width="209.70" height="156.00" fill="none" stroke="#7a7a7a" stroke-width="0.9"/>
<line x1="552.10" y1="380.30" x2="554.30" y2="380.30" stroke="#7a7a7a" stroke-width="0.8"/>
<text class="t" x="550.40" y="383.50" font-size="9.2" text-anchor="end">0.0</text>
<line x1="552.10" y1="354.30" x2="554.30" y2="354.30" stroke="#7a7a7a" stroke-width="0.8"/>
<text class="t" x="550.40" y="357.50" font-size="9.2" text-anchor="end">0.5</text>
<line x1="552.10" y1="328.30" x2="554.30" y2="328.30" stroke="#7a7a7a" stroke-width="0.8"/>
<text class="t" x="550.40" y="331.50" font-size="9.2" text-anchor="end">1.0</text>
<line x1="552.10" y1="302.30" x2="554.30" y2="302.30" stroke="#7a7a7a" stroke-width="0.8"/>
<text class="t" x="550.40" y="305.50" font-size="9.2" text-anchor="end">1.5</text>
<line x1="552.10" y1="276.30" x2="554.30" y2="276.30" stroke="#7a7a7a" stroke-width="0.8"/>
<text class="t" x="550.40" y="279.50" font-size="9.2" text-anchor="end">2.0</text>
<line x1="552.10" y1="250.30" x2="554.30" y2="250.30" stroke="#7a7a7a" stroke-width="0.8"/>
<text class="t" x="550.40" y="253.50" font-size="9.2" text-anchor="end">2.5</text>
<line x1="552.10" y1="224.30" x2="554.30" y2="224.30" stroke="#7a7a7a" stroke-width="0.8"/>
<text class="t" x="550.40" y="227.50" font-size="9.2" text-anchor="end">3.0</text>
<line x1="554.30" y1="380.30" x2="554.30" y2="382.50" stroke="#7a7a7a" stroke-width="0.8"/>
<text class="t" x="554.30" y="391.90" font-size="9.2" text-anchor="middle">12</text>
<line x1="606.01" y1="380.30" x2="606.01" y2="382.50" stroke="#7a7a7a" stroke-width="0.8"/>
<text class="t" x="606.01" y="391.90" font-size="9.2" text-anchor="middle">14</text>
<line x1="657.73" y1="380.30" x2="657.73" y2="382.50" stroke="#7a7a7a" stroke-width="0.8"/>
<text class="t" x="657.73" y="391.90" font-size="9.2" text-anchor="middle">16</text>
<line x1="709.44" y1="380.30" x2="709.44" y2="382.50" stroke="#7a7a7a" stroke-width="0.8"/>
<text class="t" x="709.44" y="391.90" font-size="9.2" text-anchor="middle">18</text>
<line x1="761.16" y1="380.30" x2="761.16" y2="382.50" stroke="#7a7a7a" stroke-width="0.8"/>
<text class="t" x="761.16" y="391.90" font-size="9.2" text-anchor="middle">20</text>
<text class="t" x="659.15" y="405.10" font-size="10.6" text-anchor="middle">Distance (Å)</text>
<text class="t" transform="translate(530.50,302.30) rotate(-90)" x="0" y="0" font-size="10.6" text-anchor="middle">Probability Density</text>
<text class="h" x="559.2" y="239.2" font-size="12.3">TM3-TM7</text>
<text class="h" x="517.2" y="225.1" font-size="17.5">F</text>
<rect x="150.5" y="25.8" width="97.0" height="74.4" rx="1.5" fill="#fff" fill-opacity="0.8" stroke="#e4e4e4" stroke-width="0.8"/>
<line x1="152.8" y1="32.5" x2="170.6" y2="32.5" stroke="#000000" stroke-width="2.0"/>
<text class="l" x="176.2" y="35.70" font-size="8.2">agonist1</text>
<line x1="152.8" y1="44.5" x2="170.6" y2="44.5" stroke="#0000ff" stroke-width="2.0"/>
<text class="l" x="176.2" y="47.70" font-size="8.2">agonist2</text>
<line x1="152.8" y1="56.5" x2="170.6" y2="56.5" stroke="#00ff00" stroke-width="2.0"/>
<text class="l" x="176.2" y="59.70" font-size="8.2">antagonist1</text>
<line x1="152.8" y1="68.6" x2="170.6" y2="68.6" stroke="#ff00ff" stroke-width="2.0"/>
<text class="l" x="176.2" y="71.80" font-size="8.2">antagonist2</text>
<line x1="152.8" y1="80.7" x2="170.6" y2="80.7" stroke="#00ffff" stroke-width="2.0"/>
<text class="l" x="176.2" y="83.90" font-size="8.2">inverse agonist1</text>
<line x1="152.8" y1="92.8" x2="170.6" y2="92.8" stroke="#ff0000" stroke-width="2.0"/>
<text class="l" x="176.2" y="96.00" font-size="8.2">inverse agonist2</text>
</svg></body></html>
